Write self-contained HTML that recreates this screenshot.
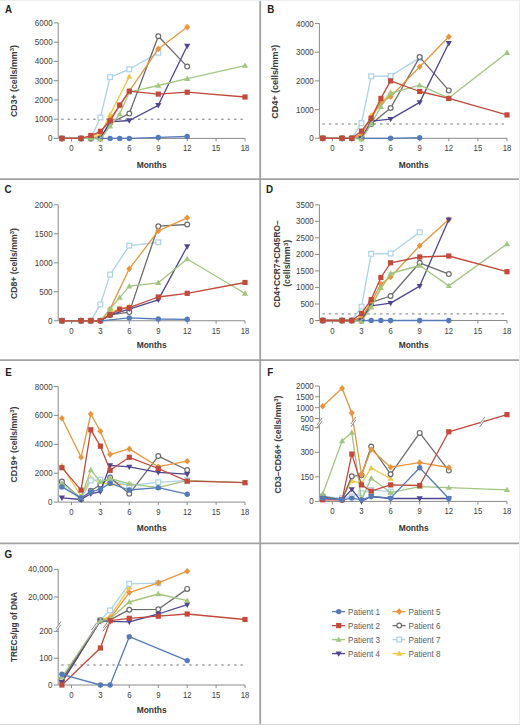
<!DOCTYPE html>
<html><head><meta charset="utf-8"><style>
html,body{margin:0;padding:0;background:#fff;}
svg{display:block;}
</style></head><body>
<svg width="520" height="725" viewBox="0 0 520 725">
<rect width="520" height="725" fill="#fff"/>
<text x="5.0" y="12.8" font-family='"Liberation Sans", sans-serif' font-weight="bold" font-size="10.8" fill="#222" textLength="7.08" lengthAdjust="spacingAndGlyphs">A</text>
<path d="M58.2 22.9V138.4H245.0" fill="none" stroke="#8a8a8a" stroke-width="1"/>
<path d="M53.7 138.4H58.2" stroke="#8a8a8a" stroke-width="1"/>
<text x="52.6" y="141.4" text-anchor="end" font-family='"Liberation Sans", sans-serif' font-size="8.6" fill="#404040" textLength="4.5" lengthAdjust="spacingAndGlyphs">0</text>
<path d="M53.7 119.2H58.2" stroke="#8a8a8a" stroke-width="1"/>
<text x="52.6" y="122.2" text-anchor="end" font-family='"Liberation Sans", sans-serif' font-size="8.6" fill="#404040" textLength="17.8" lengthAdjust="spacingAndGlyphs">1000</text>
<path d="M53.7 99.9H58.2" stroke="#8a8a8a" stroke-width="1"/>
<text x="52.6" y="102.9" text-anchor="end" font-family='"Liberation Sans", sans-serif' font-size="8.6" fill="#404040" textLength="17.8" lengthAdjust="spacingAndGlyphs">2000</text>
<path d="M53.7 80.7H58.2" stroke="#8a8a8a" stroke-width="1"/>
<text x="52.6" y="83.7" text-anchor="end" font-family='"Liberation Sans", sans-serif' font-size="8.6" fill="#404040" textLength="17.8" lengthAdjust="spacingAndGlyphs">3000</text>
<path d="M53.7 61.4H58.2" stroke="#8a8a8a" stroke-width="1"/>
<text x="52.6" y="64.4" text-anchor="end" font-family='"Liberation Sans", sans-serif' font-size="8.6" fill="#404040" textLength="17.8" lengthAdjust="spacingAndGlyphs">4000</text>
<path d="M53.7 42.2H58.2" stroke="#8a8a8a" stroke-width="1"/>
<text x="52.6" y="45.2" text-anchor="end" font-family='"Liberation Sans", sans-serif' font-size="8.6" fill="#404040" textLength="17.8" lengthAdjust="spacingAndGlyphs">5000</text>
<path d="M53.7 22.9H58.2" stroke="#8a8a8a" stroke-width="1"/>
<text x="52.6" y="25.9" text-anchor="end" font-family='"Liberation Sans", sans-serif' font-size="8.6" fill="#404040" textLength="17.8" lengthAdjust="spacingAndGlyphs">6000</text>
<path d="M71.5 138.4V141.4" stroke="#8a8a8a" stroke-width="1"/>
<text x="71.5" y="151.4" text-anchor="middle" font-family='"Liberation Sans", sans-serif' font-size="8.6" fill="#404040" textLength="4.3" lengthAdjust="spacingAndGlyphs">0</text>
<path d="M100.4 138.4V141.4" stroke="#8a8a8a" stroke-width="1"/>
<text x="100.4" y="151.4" text-anchor="middle" font-family='"Liberation Sans", sans-serif' font-size="8.6" fill="#404040" textLength="4.3" lengthAdjust="spacingAndGlyphs">3</text>
<path d="M129.3 138.4V141.4" stroke="#8a8a8a" stroke-width="1"/>
<text x="129.3" y="151.4" text-anchor="middle" font-family='"Liberation Sans", sans-serif' font-size="8.6" fill="#404040" textLength="4.3" lengthAdjust="spacingAndGlyphs">6</text>
<path d="M158.3 138.4V141.4" stroke="#8a8a8a" stroke-width="1"/>
<text x="158.3" y="151.4" text-anchor="middle" font-family='"Liberation Sans", sans-serif' font-size="8.6" fill="#404040" textLength="4.3" lengthAdjust="spacingAndGlyphs">9</text>
<path d="M187.2 138.4V141.4" stroke="#8a8a8a" stroke-width="1"/>
<text x="187.2" y="151.4" text-anchor="middle" font-family='"Liberation Sans", sans-serif' font-size="8.6" fill="#404040" textLength="8.6" lengthAdjust="spacingAndGlyphs">12</text>
<path d="M216.1 138.4V141.4" stroke="#8a8a8a" stroke-width="1"/>
<text x="216.1" y="151.4" text-anchor="middle" font-family='"Liberation Sans", sans-serif' font-size="8.6" fill="#404040" textLength="8.6" lengthAdjust="spacingAndGlyphs">15</text>
<path d="M245.0 138.4V141.4" stroke="#8a8a8a" stroke-width="1"/>
<text x="245.0" y="151.4" text-anchor="middle" font-family='"Liberation Sans", sans-serif' font-size="8.6" fill="#404040" textLength="8.6" lengthAdjust="spacingAndGlyphs">18</text>
<text x="151.7" y="167.5" text-anchor="middle" font-family='"Liberation Sans", sans-serif' font-weight="bold" font-size="8.6" fill="#333" textLength="30" lengthAdjust="spacingAndGlyphs">Months</text>
<text transform="translate(14.0,81.0) rotate(-90)" x="0" y="3" text-anchor="middle" font-family='"Liberation Sans", sans-serif' font-weight="bold" font-size="8.4" fill="#3a3a3a" textLength="72" lengthAdjust="spacingAndGlyphs">CD3+ (cells/mm<tspan dy="-2.8" font-size="6.2">3</tspan><tspan dy="2.8">)</tspan></text>
<path d="M61.2 119.2H245.0" stroke="#777" stroke-width="1" stroke-dasharray="2.5 3.9"/>
<path d="M61.9 138.4L81.1 138.4L90.8 138.4L100.4 134.6L110.1 114.7L129.3 76.6" fill="none" stroke="#f0c644" stroke-width="1.3" stroke-linejoin="round"/>
<path d="M61.9 135.2L65.0 140.6L58.8 140.6Z" fill="#f0c644"/>
<path d="M81.1 135.2L84.2 140.6L78.0 140.6Z" fill="#f0c644"/>
<path d="M90.8 135.2L93.9 140.6L87.7 140.6Z" fill="#f0c644"/>
<path d="M100.4 131.4L103.5 136.8L97.3 136.8Z" fill="#f0c644"/>
<path d="M110.1 111.5L113.2 116.9L107.0 116.9Z" fill="#f0c644"/>
<path d="M129.3 73.4L132.4 78.8L126.2 78.8Z" fill="#f0c644"/>
<path d="M61.9 138.4L81.1 138.4L90.8 138.4L100.4 117.5L110.1 77.1L129.3 69.3L158.3 52.7" fill="none" stroke="#acd2e8" stroke-width="1.3" stroke-linejoin="round"/>
<rect x="59.5" y="136.0" width="4.8" height="4.8" fill="#fff" stroke="#acd2e8" stroke-width="1.2"/>
<rect x="78.7" y="136.0" width="4.8" height="4.8" fill="#fff" stroke="#acd2e8" stroke-width="1.2"/>
<rect x="88.4" y="136.0" width="4.8" height="4.8" fill="#fff" stroke="#acd2e8" stroke-width="1.2"/>
<rect x="98.0" y="115.1" width="4.8" height="4.8" fill="#fff" stroke="#acd2e8" stroke-width="1.2"/>
<rect x="107.7" y="74.7" width="4.8" height="4.8" fill="#fff" stroke="#acd2e8" stroke-width="1.2"/>
<rect x="126.9" y="66.9" width="4.8" height="4.8" fill="#fff" stroke="#acd2e8" stroke-width="1.2"/>
<rect x="155.9" y="50.3" width="4.8" height="4.8" fill="#fff" stroke="#acd2e8" stroke-width="1.2"/>
<path d="M61.9 138.4L81.1 138.4L90.8 138.4L100.4 138.4L110.1 123.0L129.3 113.6L158.3 36.2L187.2 66.6" fill="none" stroke="#6c6c6c" stroke-width="1.3" stroke-linejoin="round"/>
<circle cx="61.9" cy="138.4" r="2.4" fill="#fff" stroke="#6c6c6c" stroke-width="1.2"/>
<circle cx="81.1" cy="138.4" r="2.4" fill="#fff" stroke="#6c6c6c" stroke-width="1.2"/>
<circle cx="90.8" cy="138.4" r="2.4" fill="#fff" stroke="#6c6c6c" stroke-width="1.2"/>
<circle cx="100.4" cy="138.4" r="2.4" fill="#fff" stroke="#6c6c6c" stroke-width="1.2"/>
<circle cx="110.1" cy="123.0" r="2.4" fill="#fff" stroke="#6c6c6c" stroke-width="1.2"/>
<circle cx="129.3" cy="113.6" r="2.4" fill="#fff" stroke="#6c6c6c" stroke-width="1.2"/>
<circle cx="158.3" cy="36.2" r="2.4" fill="#fff" stroke="#6c6c6c" stroke-width="1.2"/>
<circle cx="187.2" cy="66.6" r="2.4" fill="#fff" stroke="#6c6c6c" stroke-width="1.2"/>
<path d="M61.9 138.4L81.1 138.4L90.8 136.5L100.4 132.6L110.1 119.2L119.7 105.3L129.3 91.2L158.3 48.9L187.2 27.1" fill="none" stroke="#e8963e" stroke-width="1.3" stroke-linejoin="round"/>
<path d="M61.9 135.1L64.9 138.4L61.9 141.7L58.9 138.4Z" fill="#e8963e"/>
<path d="M81.1 135.1L84.1 138.4L81.1 141.7L78.1 138.4Z" fill="#e8963e"/>
<path d="M90.8 133.2L93.8 136.5L90.8 139.8L87.8 136.5Z" fill="#e8963e"/>
<path d="M100.4 129.3L103.4 132.6L100.4 135.9L97.4 132.6Z" fill="#e8963e"/>
<path d="M110.1 115.9L113.1 119.2L110.1 122.5L107.1 119.2Z" fill="#e8963e"/>
<path d="M119.7 102.0L122.7 105.3L119.7 108.6L116.7 105.3Z" fill="#e8963e"/>
<path d="M129.3 87.9L132.3 91.2L129.3 94.5L126.3 91.2Z" fill="#e8963e"/>
<path d="M158.3 45.6L161.3 48.9L158.3 52.2L155.3 48.9Z" fill="#e8963e"/>
<path d="M187.2 23.8L190.2 27.1L187.2 30.4L184.2 27.1Z" fill="#e8963e"/>
<path d="M61.9 138.4L81.1 138.4L90.8 138.4L100.4 138.4L110.1 121.8L129.3 120.5L158.3 105.3L187.2 46.0" fill="none" stroke="#4e4690" stroke-width="1.3" stroke-linejoin="round"/>
<path d="M61.9 141.6L65.0 136.2L58.8 136.2Z" fill="#4e4690"/>
<path d="M81.1 141.6L84.2 136.2L78.0 136.2Z" fill="#4e4690"/>
<path d="M90.8 141.6L93.9 136.2L87.7 136.2Z" fill="#4e4690"/>
<path d="M100.4 141.6L103.5 136.2L97.3 136.2Z" fill="#4e4690"/>
<path d="M110.1 125.0L113.2 119.6L107.0 119.6Z" fill="#4e4690"/>
<path d="M129.3 123.7L132.4 118.3L126.2 118.3Z" fill="#4e4690"/>
<path d="M158.3 108.5L161.4 103.1L155.2 103.1Z" fill="#4e4690"/>
<path d="M187.2 49.2L190.3 43.8L184.1 43.8Z" fill="#4e4690"/>
<path d="M61.9 138.4L81.1 138.4L90.8 138.4L100.4 139.2L110.1 126.3L119.7 114.1L129.3 92.2L158.3 85.5L187.2 78.7L245.0 65.6" fill="none" stroke="#a2c682" stroke-width="1.3" stroke-linejoin="round"/>
<path d="M61.9 135.2L65.0 140.6L58.8 140.6Z" fill="#a2c682"/>
<path d="M81.1 135.2L84.2 140.6L78.0 140.6Z" fill="#a2c682"/>
<path d="M90.8 135.2L93.9 140.6L87.7 140.6Z" fill="#a2c682"/>
<path d="M100.4 136.0L103.5 141.4L97.3 141.4Z" fill="#a2c682"/>
<path d="M110.1 123.1L113.2 128.5L107.0 128.5Z" fill="#a2c682"/>
<path d="M119.7 110.9L122.8 116.3L116.6 116.3Z" fill="#a2c682"/>
<path d="M129.3 89.0L132.4 94.4L126.2 94.4Z" fill="#a2c682"/>
<path d="M158.3 82.3L161.4 87.7L155.2 87.7Z" fill="#a2c682"/>
<path d="M187.2 75.5L190.3 80.9L184.1 80.9Z" fill="#a2c682"/>
<path d="M245.0 62.4L248.1 67.8L241.9 67.8Z" fill="#a2c682"/>
<path d="M61.9 138.4L81.1 138.4L90.8 135.5L100.4 131.3L110.1 120.8L119.7 105.1L129.3 91.2L158.3 94.1L187.2 92.2L245.0 97.0" fill="none" stroke="#c24a3c" stroke-width="1.3" stroke-linejoin="round"/>
<rect x="59.3" y="135.8" width="5.2" height="5.2" fill="#c24a3c"/>
<rect x="78.5" y="135.8" width="5.2" height="5.2" fill="#c24a3c"/>
<rect x="88.2" y="132.9" width="5.2" height="5.2" fill="#c24a3c"/>
<rect x="97.8" y="128.7" width="5.2" height="5.2" fill="#c24a3c"/>
<rect x="107.5" y="118.2" width="5.2" height="5.2" fill="#c24a3c"/>
<rect x="117.1" y="102.5" width="5.2" height="5.2" fill="#c24a3c"/>
<rect x="126.7" y="88.6" width="5.2" height="5.2" fill="#c24a3c"/>
<rect x="155.7" y="91.5" width="5.2" height="5.2" fill="#c24a3c"/>
<rect x="184.6" y="89.6" width="5.2" height="5.2" fill="#c24a3c"/>
<rect x="242.4" y="94.4" width="5.2" height="5.2" fill="#c24a3c"/>
<path d="M100.4 138.4L110.1 138.4L119.7 138.4L129.3 138.4L158.3 137.4L187.2 136.5" fill="none" stroke="#557cb8" stroke-width="1.3" stroke-linejoin="round"/>
<circle cx="110.1" cy="138.4" r="2.7" fill="#557cb8"/>
<circle cx="119.7" cy="138.4" r="2.7" fill="#557cb8"/>
<circle cx="129.3" cy="138.4" r="2.7" fill="#557cb8"/>
<circle cx="158.3" cy="137.4" r="2.7" fill="#557cb8"/>
<circle cx="187.2" cy="136.5" r="2.7" fill="#557cb8"/>
<text x="267.3" y="12.8" font-family='"Liberation Sans", sans-serif' font-weight="bold" font-size="10.8" fill="#222" textLength="7.08" lengthAdjust="spacingAndGlyphs">B</text>
<path d="M319.4 23.5V138.3H507.0" fill="none" stroke="#8a8a8a" stroke-width="1"/>
<path d="M314.9 138.3H319.4" stroke="#8a8a8a" stroke-width="1"/>
<text x="313.8" y="141.3" text-anchor="end" font-family='"Liberation Sans", sans-serif' font-size="8.6" fill="#404040" textLength="4.5" lengthAdjust="spacingAndGlyphs">0</text>
<path d="M314.9 109.6H319.4" stroke="#8a8a8a" stroke-width="1"/>
<text x="313.8" y="112.6" text-anchor="end" font-family='"Liberation Sans", sans-serif' font-size="8.6" fill="#404040" textLength="17.8" lengthAdjust="spacingAndGlyphs">1000</text>
<path d="M314.9 80.9H319.4" stroke="#8a8a8a" stroke-width="1"/>
<text x="313.8" y="83.9" text-anchor="end" font-family='"Liberation Sans", sans-serif' font-size="8.6" fill="#404040" textLength="17.8" lengthAdjust="spacingAndGlyphs">2000</text>
<path d="M314.9 52.2H319.4" stroke="#8a8a8a" stroke-width="1"/>
<text x="313.8" y="55.2" text-anchor="end" font-family='"Liberation Sans", sans-serif' font-size="8.6" fill="#404040" textLength="17.8" lengthAdjust="spacingAndGlyphs">3000</text>
<path d="M314.9 23.5H319.4" stroke="#8a8a8a" stroke-width="1"/>
<text x="313.8" y="26.5" text-anchor="end" font-family='"Liberation Sans", sans-serif' font-size="8.6" fill="#404040" textLength="17.8" lengthAdjust="spacingAndGlyphs">4000</text>
<path d="M332.4 138.3V141.3" stroke="#8a8a8a" stroke-width="1"/>
<text x="332.4" y="151.3" text-anchor="middle" font-family='"Liberation Sans", sans-serif' font-size="8.6" fill="#404040" textLength="4.3" lengthAdjust="spacingAndGlyphs">0</text>
<path d="M361.5 138.3V141.3" stroke="#8a8a8a" stroke-width="1"/>
<text x="361.5" y="151.3" text-anchor="middle" font-family='"Liberation Sans", sans-serif' font-size="8.6" fill="#404040" textLength="4.3" lengthAdjust="spacingAndGlyphs">3</text>
<path d="M390.6 138.3V141.3" stroke="#8a8a8a" stroke-width="1"/>
<text x="390.6" y="151.3" text-anchor="middle" font-family='"Liberation Sans", sans-serif' font-size="8.6" fill="#404040" textLength="4.3" lengthAdjust="spacingAndGlyphs">6</text>
<path d="M419.7 138.3V141.3" stroke="#8a8a8a" stroke-width="1"/>
<text x="419.7" y="151.3" text-anchor="middle" font-family='"Liberation Sans", sans-serif' font-size="8.6" fill="#404040" textLength="4.3" lengthAdjust="spacingAndGlyphs">9</text>
<path d="M448.8 138.3V141.3" stroke="#8a8a8a" stroke-width="1"/>
<text x="448.8" y="151.3" text-anchor="middle" font-family='"Liberation Sans", sans-serif' font-size="8.6" fill="#404040" textLength="8.6" lengthAdjust="spacingAndGlyphs">12</text>
<path d="M477.9 138.3V141.3" stroke="#8a8a8a" stroke-width="1"/>
<text x="477.9" y="151.3" text-anchor="middle" font-family='"Liberation Sans", sans-serif' font-size="8.6" fill="#404040" textLength="8.6" lengthAdjust="spacingAndGlyphs">15</text>
<path d="M507.0 138.3V141.3" stroke="#8a8a8a" stroke-width="1"/>
<text x="507.0" y="151.3" text-anchor="middle" font-family='"Liberation Sans", sans-serif' font-size="8.6" fill="#404040" textLength="8.6" lengthAdjust="spacingAndGlyphs">18</text>
<text x="413.7" y="167.5" text-anchor="middle" font-family='"Liberation Sans", sans-serif' font-weight="bold" font-size="8.6" fill="#333" textLength="30" lengthAdjust="spacingAndGlyphs">Months</text>
<text transform="translate(275.3,81.7) rotate(-90)" x="0" y="3" text-anchor="middle" font-family='"Liberation Sans", sans-serif' font-weight="bold" font-size="8.4" fill="#3a3a3a" textLength="74" lengthAdjust="spacingAndGlyphs">CD4+ (cells/mm<tspan dy="-2.8" font-size="6.2">3</tspan><tspan dy="2.8">)</tspan></text>
<path d="M322.4 124.0H507.0" stroke="#777" stroke-width="1" stroke-dasharray="2.5 3.9"/>
<path d="M322.7 138.3L342.1 138.3L351.8 138.3L361.5 135.4L371.2 115.3L390.6 92.4" fill="none" stroke="#f0c644" stroke-width="1.3" stroke-linejoin="round"/>
<path d="M322.7 135.1L325.8 140.5L319.6 140.5Z" fill="#f0c644"/>
<path d="M342.1 135.1L345.2 140.5L339.0 140.5Z" fill="#f0c644"/>
<path d="M351.8 135.1L354.9 140.5L348.7 140.5Z" fill="#f0c644"/>
<path d="M361.5 132.2L364.6 137.6L358.4 137.6Z" fill="#f0c644"/>
<path d="M371.2 112.1L374.3 117.5L368.1 117.5Z" fill="#f0c644"/>
<path d="M390.6 89.2L393.7 94.6L387.5 94.6Z" fill="#f0c644"/>
<path d="M322.7 138.3L342.1 138.3L351.8 138.3L361.5 123.1L371.2 76.3L390.6 76.0L419.7 57.9" fill="none" stroke="#acd2e8" stroke-width="1.3" stroke-linejoin="round"/>
<rect x="320.3" y="135.9" width="4.8" height="4.8" fill="#fff" stroke="#acd2e8" stroke-width="1.2"/>
<rect x="339.7" y="135.9" width="4.8" height="4.8" fill="#fff" stroke="#acd2e8" stroke-width="1.2"/>
<rect x="349.4" y="135.9" width="4.8" height="4.8" fill="#fff" stroke="#acd2e8" stroke-width="1.2"/>
<rect x="359.1" y="120.7" width="4.8" height="4.8" fill="#fff" stroke="#acd2e8" stroke-width="1.2"/>
<rect x="368.8" y="73.9" width="4.8" height="4.8" fill="#fff" stroke="#acd2e8" stroke-width="1.2"/>
<rect x="388.2" y="73.6" width="4.8" height="4.8" fill="#fff" stroke="#acd2e8" stroke-width="1.2"/>
<rect x="417.3" y="55.5" width="4.8" height="4.8" fill="#fff" stroke="#acd2e8" stroke-width="1.2"/>
<path d="M322.7 138.3L342.1 138.3L351.8 138.3L361.5 138.3L371.2 124.0L390.6 108.0L419.7 57.1L448.8 90.4" fill="none" stroke="#6c6c6c" stroke-width="1.3" stroke-linejoin="round"/>
<circle cx="322.7" cy="138.3" r="2.4" fill="#fff" stroke="#6c6c6c" stroke-width="1.2"/>
<circle cx="342.1" cy="138.3" r="2.4" fill="#fff" stroke="#6c6c6c" stroke-width="1.2"/>
<circle cx="351.8" cy="138.3" r="2.4" fill="#fff" stroke="#6c6c6c" stroke-width="1.2"/>
<circle cx="361.5" cy="138.3" r="2.4" fill="#fff" stroke="#6c6c6c" stroke-width="1.2"/>
<circle cx="371.2" cy="124.0" r="2.4" fill="#fff" stroke="#6c6c6c" stroke-width="1.2"/>
<circle cx="390.6" cy="108.0" r="2.4" fill="#fff" stroke="#6c6c6c" stroke-width="1.2"/>
<circle cx="419.7" cy="57.1" r="2.4" fill="#fff" stroke="#6c6c6c" stroke-width="1.2"/>
<circle cx="448.8" cy="90.4" r="2.4" fill="#fff" stroke="#6c6c6c" stroke-width="1.2"/>
<path d="M322.7 138.3L342.1 138.3L351.8 138.3L361.5 134.0L371.2 118.2L380.9 102.4L390.6 96.7L419.7 66.8L448.8 36.7" fill="none" stroke="#e8963e" stroke-width="1.3" stroke-linejoin="round"/>
<path d="M322.7 135.0L325.7 138.3L322.7 141.6L319.7 138.3Z" fill="#e8963e"/>
<path d="M342.1 135.0L345.1 138.3L342.1 141.6L339.1 138.3Z" fill="#e8963e"/>
<path d="M351.8 135.0L354.8 138.3L351.8 141.6L348.8 138.3Z" fill="#e8963e"/>
<path d="M361.5 130.7L364.5 134.0L361.5 137.3L358.5 134.0Z" fill="#e8963e"/>
<path d="M371.2 114.9L374.2 118.2L371.2 121.5L368.2 118.2Z" fill="#e8963e"/>
<path d="M380.9 99.1L383.9 102.4L380.9 105.7L377.9 102.4Z" fill="#e8963e"/>
<path d="M390.6 93.4L393.6 96.7L390.6 100.0L387.6 96.7Z" fill="#e8963e"/>
<path d="M419.7 63.5L422.7 66.8L419.7 70.1L416.7 66.8Z" fill="#e8963e"/>
<path d="M448.8 33.4L451.8 36.7L448.8 40.0L445.8 36.7Z" fill="#e8963e"/>
<path d="M322.7 138.3L342.1 138.3L351.8 138.3L361.5 138.3L371.2 121.1L390.6 119.1L419.7 102.4L448.8 43.3" fill="none" stroke="#4e4690" stroke-width="1.3" stroke-linejoin="round"/>
<path d="M322.7 141.5L325.8 136.1L319.6 136.1Z" fill="#4e4690"/>
<path d="M342.1 141.5L345.2 136.1L339.0 136.1Z" fill="#4e4690"/>
<path d="M351.8 141.5L354.9 136.1L348.7 136.1Z" fill="#4e4690"/>
<path d="M361.5 141.5L364.6 136.1L358.4 136.1Z" fill="#4e4690"/>
<path d="M371.2 124.3L374.3 118.9L368.1 118.9Z" fill="#4e4690"/>
<path d="M390.6 122.3L393.7 116.9L387.5 116.9Z" fill="#4e4690"/>
<path d="M419.7 105.6L422.8 100.2L416.6 100.2Z" fill="#4e4690"/>
<path d="M448.8 46.5L451.9 41.1L445.7 41.1Z" fill="#4e4690"/>
<path d="M322.7 138.3L342.1 138.3L351.8 138.3L361.5 139.2L371.2 124.0L380.9 106.7L390.6 93.2L419.7 85.2L448.8 98.1L507.0 52.8" fill="none" stroke="#a2c682" stroke-width="1.3" stroke-linejoin="round"/>
<path d="M322.7 135.1L325.8 140.5L319.6 140.5Z" fill="#a2c682"/>
<path d="M342.1 135.1L345.2 140.5L339.0 140.5Z" fill="#a2c682"/>
<path d="M351.8 135.1L354.9 140.5L348.7 140.5Z" fill="#a2c682"/>
<path d="M361.5 136.0L364.6 141.4L358.4 141.4Z" fill="#a2c682"/>
<path d="M371.2 120.8L374.3 126.2L368.1 126.2Z" fill="#a2c682"/>
<path d="M380.9 103.5L384.0 108.9L377.8 108.9Z" fill="#a2c682"/>
<path d="M390.6 90.0L393.7 95.4L387.5 95.4Z" fill="#a2c682"/>
<path d="M419.7 82.0L422.8 87.4L416.6 87.4Z" fill="#a2c682"/>
<path d="M448.8 94.9L451.9 100.3L445.7 100.3Z" fill="#a2c682"/>
<path d="M507.0 49.6L510.1 55.0L503.9 55.0Z" fill="#a2c682"/>
<path d="M322.7 138.3L342.1 138.3L351.8 138.3L361.5 131.1L371.2 118.2L380.9 98.4L390.6 80.9L419.7 91.5L448.8 98.4L507.0 114.9" fill="none" stroke="#c24a3c" stroke-width="1.3" stroke-linejoin="round"/>
<rect x="320.1" y="135.7" width="5.2" height="5.2" fill="#c24a3c"/>
<rect x="339.5" y="135.7" width="5.2" height="5.2" fill="#c24a3c"/>
<rect x="349.2" y="135.7" width="5.2" height="5.2" fill="#c24a3c"/>
<rect x="358.9" y="128.5" width="5.2" height="5.2" fill="#c24a3c"/>
<rect x="368.6" y="115.6" width="5.2" height="5.2" fill="#c24a3c"/>
<rect x="378.3" y="95.8" width="5.2" height="5.2" fill="#c24a3c"/>
<rect x="388.0" y="78.3" width="5.2" height="5.2" fill="#c24a3c"/>
<rect x="417.1" y="88.9" width="5.2" height="5.2" fill="#c24a3c"/>
<rect x="446.2" y="95.8" width="5.2" height="5.2" fill="#c24a3c"/>
<rect x="504.4" y="112.3" width="5.2" height="5.2" fill="#c24a3c"/>
<path d="M361.5 138.3L390.6 138.3L419.7 137.7" fill="none" stroke="#557cb8" stroke-width="1.3" stroke-linejoin="round"/>
<circle cx="390.6" cy="138.3" r="2.7" fill="#557cb8"/>
<circle cx="419.7" cy="137.7" r="2.7" fill="#557cb8"/>
<text x="4.4" y="193.1" font-family='"Liberation Sans", sans-serif' font-weight="bold" font-size="10.8" fill="#222" textLength="7.08" lengthAdjust="spacingAndGlyphs">C</text>
<path d="M58.2 204.75V320.75H245.0" fill="none" stroke="#8a8a8a" stroke-width="1"/>
<path d="M53.7 320.8H58.2" stroke="#8a8a8a" stroke-width="1"/>
<text x="52.6" y="323.8" text-anchor="end" font-family='"Liberation Sans", sans-serif' font-size="8.6" fill="#404040" textLength="4.5" lengthAdjust="spacingAndGlyphs">0</text>
<path d="M53.7 291.8H58.2" stroke="#8a8a8a" stroke-width="1"/>
<text x="52.6" y="294.8" text-anchor="end" font-family='"Liberation Sans", sans-serif' font-size="8.6" fill="#404040" textLength="13.4" lengthAdjust="spacingAndGlyphs">500</text>
<path d="M53.7 262.8H58.2" stroke="#8a8a8a" stroke-width="1"/>
<text x="52.6" y="265.8" text-anchor="end" font-family='"Liberation Sans", sans-serif' font-size="8.6" fill="#404040" textLength="17.8" lengthAdjust="spacingAndGlyphs">1000</text>
<path d="M53.7 233.8H58.2" stroke="#8a8a8a" stroke-width="1"/>
<text x="52.6" y="236.8" text-anchor="end" font-family='"Liberation Sans", sans-serif' font-size="8.6" fill="#404040" textLength="17.8" lengthAdjust="spacingAndGlyphs">1500</text>
<path d="M53.7 204.8H58.2" stroke="#8a8a8a" stroke-width="1"/>
<text x="52.6" y="207.8" text-anchor="end" font-family='"Liberation Sans", sans-serif' font-size="8.6" fill="#404040" textLength="17.8" lengthAdjust="spacingAndGlyphs">2000</text>
<path d="M71.5 320.75V323.75" stroke="#8a8a8a" stroke-width="1"/>
<text x="71.5" y="333.8" text-anchor="middle" font-family='"Liberation Sans", sans-serif' font-size="8.6" fill="#404040" textLength="4.3" lengthAdjust="spacingAndGlyphs">0</text>
<path d="M100.4 320.75V323.75" stroke="#8a8a8a" stroke-width="1"/>
<text x="100.4" y="333.8" text-anchor="middle" font-family='"Liberation Sans", sans-serif' font-size="8.6" fill="#404040" textLength="4.3" lengthAdjust="spacingAndGlyphs">3</text>
<path d="M129.3 320.75V323.75" stroke="#8a8a8a" stroke-width="1"/>
<text x="129.3" y="333.8" text-anchor="middle" font-family='"Liberation Sans", sans-serif' font-size="8.6" fill="#404040" textLength="4.3" lengthAdjust="spacingAndGlyphs">6</text>
<path d="M158.3 320.75V323.75" stroke="#8a8a8a" stroke-width="1"/>
<text x="158.3" y="333.8" text-anchor="middle" font-family='"Liberation Sans", sans-serif' font-size="8.6" fill="#404040" textLength="4.3" lengthAdjust="spacingAndGlyphs">9</text>
<path d="M187.2 320.75V323.75" stroke="#8a8a8a" stroke-width="1"/>
<text x="187.2" y="333.8" text-anchor="middle" font-family='"Liberation Sans", sans-serif' font-size="8.6" fill="#404040" textLength="8.6" lengthAdjust="spacingAndGlyphs">12</text>
<path d="M216.1 320.75V323.75" stroke="#8a8a8a" stroke-width="1"/>
<text x="216.1" y="333.8" text-anchor="middle" font-family='"Liberation Sans", sans-serif' font-size="8.6" fill="#404040" textLength="8.6" lengthAdjust="spacingAndGlyphs">15</text>
<path d="M245.0 320.75V323.75" stroke="#8a8a8a" stroke-width="1"/>
<text x="245.0" y="333.8" text-anchor="middle" font-family='"Liberation Sans", sans-serif' font-size="8.6" fill="#404040" textLength="8.6" lengthAdjust="spacingAndGlyphs">18</text>
<text x="151.7" y="348.3" text-anchor="middle" font-family='"Liberation Sans", sans-serif' font-weight="bold" font-size="8.6" fill="#333" textLength="30" lengthAdjust="spacingAndGlyphs">Months</text>
<text transform="translate(13.8,263.5) rotate(-90)" x="0" y="3" text-anchor="middle" font-family='"Liberation Sans", sans-serif' font-weight="bold" font-size="8.4" fill="#3a3a3a" textLength="71" lengthAdjust="spacingAndGlyphs">CD8+ (cells/mm<tspan dy="-2.8" font-size="6.2">3</tspan><tspan dy="2.8">)</tspan></text>
<path d="M61.9 320.8L81.1 320.8L90.8 320.8L100.4 320.8L110.1 312.1L129.3 306.2" fill="none" stroke="#f0c644" stroke-width="1.3" stroke-linejoin="round"/>
<path d="M61.9 317.6L65.0 322.9L58.8 322.9Z" fill="#f0c644"/>
<path d="M81.1 317.6L84.2 322.9L78.0 322.9Z" fill="#f0c644"/>
<path d="M90.8 317.6L93.9 322.9L87.7 322.9Z" fill="#f0c644"/>
<path d="M100.4 317.6L103.5 322.9L97.3 322.9Z" fill="#f0c644"/>
<path d="M110.1 308.9L113.2 314.2L107.0 314.2Z" fill="#f0c644"/>
<path d="M129.3 303.1L132.4 308.4L126.2 308.4Z" fill="#f0c644"/>
<path d="M61.9 320.8L81.1 320.8L90.8 320.8L100.4 304.4L110.1 274.6L129.3 245.6L158.3 242.3" fill="none" stroke="#acd2e8" stroke-width="1.3" stroke-linejoin="round"/>
<rect x="59.5" y="318.4" width="4.8" height="4.8" fill="#fff" stroke="#acd2e8" stroke-width="1.2"/>
<rect x="78.7" y="318.4" width="4.8" height="4.8" fill="#fff" stroke="#acd2e8" stroke-width="1.2"/>
<rect x="88.4" y="318.4" width="4.8" height="4.8" fill="#fff" stroke="#acd2e8" stroke-width="1.2"/>
<rect x="98.0" y="302.0" width="4.8" height="4.8" fill="#fff" stroke="#acd2e8" stroke-width="1.2"/>
<rect x="107.7" y="272.2" width="4.8" height="4.8" fill="#fff" stroke="#acd2e8" stroke-width="1.2"/>
<rect x="126.9" y="243.2" width="4.8" height="4.8" fill="#fff" stroke="#acd2e8" stroke-width="1.2"/>
<rect x="155.9" y="239.9" width="4.8" height="4.8" fill="#fff" stroke="#acd2e8" stroke-width="1.2"/>
<path d="M61.9 320.8L81.1 320.8L90.8 320.8L100.4 320.8L110.1 314.9L129.3 312.1L158.3 226.2L187.2 224.5" fill="none" stroke="#6c6c6c" stroke-width="1.3" stroke-linejoin="round"/>
<circle cx="61.9" cy="320.8" r="2.4" fill="#fff" stroke="#6c6c6c" stroke-width="1.2"/>
<circle cx="81.1" cy="320.8" r="2.4" fill="#fff" stroke="#6c6c6c" stroke-width="1.2"/>
<circle cx="90.8" cy="320.8" r="2.4" fill="#fff" stroke="#6c6c6c" stroke-width="1.2"/>
<circle cx="100.4" cy="320.8" r="2.4" fill="#fff" stroke="#6c6c6c" stroke-width="1.2"/>
<circle cx="110.1" cy="314.9" r="2.4" fill="#fff" stroke="#6c6c6c" stroke-width="1.2"/>
<circle cx="129.3" cy="312.1" r="2.4" fill="#fff" stroke="#6c6c6c" stroke-width="1.2"/>
<circle cx="158.3" cy="226.2" r="2.4" fill="#fff" stroke="#6c6c6c" stroke-width="1.2"/>
<circle cx="187.2" cy="224.5" r="2.4" fill="#fff" stroke="#6c6c6c" stroke-width="1.2"/>
<path d="M61.9 320.8L81.1 320.8L90.8 320.8L100.4 320.8L110.1 309.1L129.3 268.8L158.3 230.8L187.2 217.8" fill="none" stroke="#e8963e" stroke-width="1.3" stroke-linejoin="round"/>
<path d="M61.9 317.4L64.9 320.8L61.9 324.1L58.9 320.8Z" fill="#e8963e"/>
<path d="M81.1 317.4L84.1 320.8L81.1 324.1L78.1 320.8Z" fill="#e8963e"/>
<path d="M90.8 317.4L93.8 320.8L90.8 324.1L87.8 320.8Z" fill="#e8963e"/>
<path d="M100.4 317.4L103.4 320.8L100.4 324.1L97.4 320.8Z" fill="#e8963e"/>
<path d="M110.1 305.8L113.1 309.1L110.1 312.4L107.1 309.1Z" fill="#e8963e"/>
<path d="M129.3 265.5L132.3 268.8L129.3 272.1L126.3 268.8Z" fill="#e8963e"/>
<path d="M158.3 227.5L161.3 230.8L158.3 234.2L155.3 230.8Z" fill="#e8963e"/>
<path d="M187.2 214.5L190.2 217.8L187.2 221.1L184.2 217.8Z" fill="#e8963e"/>
<path d="M61.9 320.8L81.1 320.8L90.8 320.8L100.4 320.8L110.1 314.9L129.3 309.1L158.3 299.9L187.2 246.5" fill="none" stroke="#4e4690" stroke-width="1.3" stroke-linejoin="round"/>
<path d="M61.9 323.9L65.0 318.6L58.8 318.6Z" fill="#4e4690"/>
<path d="M81.1 323.9L84.2 318.6L78.0 318.6Z" fill="#4e4690"/>
<path d="M90.8 323.9L93.9 318.6L87.7 318.6Z" fill="#4e4690"/>
<path d="M100.4 323.9L103.5 318.6L97.3 318.6Z" fill="#4e4690"/>
<path d="M110.1 318.1L113.2 312.8L107.0 312.8Z" fill="#4e4690"/>
<path d="M129.3 312.3L132.4 306.9L126.2 306.9Z" fill="#4e4690"/>
<path d="M158.3 303.1L161.4 297.7L155.2 297.7Z" fill="#4e4690"/>
<path d="M187.2 249.7L190.3 244.3L184.1 244.3Z" fill="#4e4690"/>
<path d="M61.9 320.8L81.1 320.8L90.8 320.8L100.4 320.8L110.1 309.1L119.7 297.6L129.3 286.2L158.3 282.8L187.2 259.0L245.0 293.5" fill="none" stroke="#a2c682" stroke-width="1.3" stroke-linejoin="round"/>
<path d="M61.9 317.6L65.0 322.9L58.8 322.9Z" fill="#a2c682"/>
<path d="M81.1 317.6L84.2 322.9L78.0 322.9Z" fill="#a2c682"/>
<path d="M90.8 317.6L93.9 322.9L87.7 322.9Z" fill="#a2c682"/>
<path d="M100.4 317.6L103.5 322.9L97.3 322.9Z" fill="#a2c682"/>
<path d="M110.1 305.9L113.2 311.3L107.0 311.3Z" fill="#a2c682"/>
<path d="M119.7 294.4L122.8 299.8L116.6 299.8Z" fill="#a2c682"/>
<path d="M129.3 283.0L132.4 288.4L126.2 288.4Z" fill="#a2c682"/>
<path d="M158.3 279.6L161.4 285.0L155.2 285.0Z" fill="#a2c682"/>
<path d="M187.2 255.8L190.3 261.2L184.1 261.2Z" fill="#a2c682"/>
<path d="M245.0 290.3L248.1 295.7L241.9 295.7Z" fill="#a2c682"/>
<path d="M61.9 320.8L81.1 320.8L90.8 320.8L100.4 320.8L110.1 314.9L119.7 309.1L129.3 307.7L158.3 297.0L187.2 293.3L245.0 282.5" fill="none" stroke="#c24a3c" stroke-width="1.3" stroke-linejoin="round"/>
<rect x="59.3" y="318.1" width="5.2" height="5.2" fill="#c24a3c"/>
<rect x="78.5" y="318.1" width="5.2" height="5.2" fill="#c24a3c"/>
<rect x="88.2" y="318.1" width="5.2" height="5.2" fill="#c24a3c"/>
<rect x="97.8" y="318.1" width="5.2" height="5.2" fill="#c24a3c"/>
<rect x="107.5" y="312.3" width="5.2" height="5.2" fill="#c24a3c"/>
<rect x="117.1" y="306.5" width="5.2" height="5.2" fill="#c24a3c"/>
<rect x="126.7" y="305.1" width="5.2" height="5.2" fill="#c24a3c"/>
<rect x="155.7" y="294.4" width="5.2" height="5.2" fill="#c24a3c"/>
<rect x="184.6" y="290.7" width="5.2" height="5.2" fill="#c24a3c"/>
<rect x="242.4" y="279.9" width="5.2" height="5.2" fill="#c24a3c"/>
<path d="M100.4 320.8L129.3 317.9L158.3 319.0L187.2 319.3" fill="none" stroke="#557cb8" stroke-width="1.3" stroke-linejoin="round"/>
<circle cx="129.3" cy="317.9" r="2.7" fill="#557cb8"/>
<circle cx="158.3" cy="319.0" r="2.7" fill="#557cb8"/>
<circle cx="187.2" cy="319.3" r="2.7" fill="#557cb8"/>
<text x="266.0" y="193.1" font-family='"Liberation Sans", sans-serif' font-weight="bold" font-size="10.8" fill="#222" textLength="7.08" lengthAdjust="spacingAndGlyphs">D</text>
<path d="M319.4 204.75V320.5H507.0" fill="none" stroke="#8a8a8a" stroke-width="1"/>
<path d="M314.9 320.5H319.4" stroke="#8a8a8a" stroke-width="1"/>
<text x="313.8" y="323.5" text-anchor="end" font-family='"Liberation Sans", sans-serif' font-size="8.6" fill="#404040" textLength="4.5" lengthAdjust="spacingAndGlyphs">0</text>
<path d="M314.9 304.0H319.4" stroke="#8a8a8a" stroke-width="1"/>
<text x="313.8" y="307.0" text-anchor="end" font-family='"Liberation Sans", sans-serif' font-size="8.6" fill="#404040" textLength="13.4" lengthAdjust="spacingAndGlyphs">500</text>
<path d="M314.9 287.4H319.4" stroke="#8a8a8a" stroke-width="1"/>
<text x="313.8" y="290.4" text-anchor="end" font-family='"Liberation Sans", sans-serif' font-size="8.6" fill="#404040" textLength="17.8" lengthAdjust="spacingAndGlyphs">1000</text>
<path d="M314.9 270.9H319.4" stroke="#8a8a8a" stroke-width="1"/>
<text x="313.8" y="273.9" text-anchor="end" font-family='"Liberation Sans", sans-serif' font-size="8.6" fill="#404040" textLength="17.8" lengthAdjust="spacingAndGlyphs">1500</text>
<path d="M314.9 254.4H319.4" stroke="#8a8a8a" stroke-width="1"/>
<text x="313.8" y="257.4" text-anchor="end" font-family='"Liberation Sans", sans-serif' font-size="8.6" fill="#404040" textLength="17.8" lengthAdjust="spacingAndGlyphs">2000</text>
<path d="M314.9 237.8H319.4" stroke="#8a8a8a" stroke-width="1"/>
<text x="313.8" y="240.8" text-anchor="end" font-family='"Liberation Sans", sans-serif' font-size="8.6" fill="#404040" textLength="17.8" lengthAdjust="spacingAndGlyphs">2500</text>
<path d="M314.9 221.3H319.4" stroke="#8a8a8a" stroke-width="1"/>
<text x="313.8" y="224.3" text-anchor="end" font-family='"Liberation Sans", sans-serif' font-size="8.6" fill="#404040" textLength="17.8" lengthAdjust="spacingAndGlyphs">3000</text>
<path d="M314.9 204.8H319.4" stroke="#8a8a8a" stroke-width="1"/>
<text x="313.8" y="207.8" text-anchor="end" font-family='"Liberation Sans", sans-serif' font-size="8.6" fill="#404040" textLength="17.8" lengthAdjust="spacingAndGlyphs">3500</text>
<path d="M332.4 320.5V323.5" stroke="#8a8a8a" stroke-width="1"/>
<text x="332.4" y="333.5" text-anchor="middle" font-family='"Liberation Sans", sans-serif' font-size="8.6" fill="#404040" textLength="4.3" lengthAdjust="spacingAndGlyphs">0</text>
<path d="M361.5 320.5V323.5" stroke="#8a8a8a" stroke-width="1"/>
<text x="361.5" y="333.5" text-anchor="middle" font-family='"Liberation Sans", sans-serif' font-size="8.6" fill="#404040" textLength="4.3" lengthAdjust="spacingAndGlyphs">3</text>
<path d="M390.6 320.5V323.5" stroke="#8a8a8a" stroke-width="1"/>
<text x="390.6" y="333.5" text-anchor="middle" font-family='"Liberation Sans", sans-serif' font-size="8.6" fill="#404040" textLength="4.3" lengthAdjust="spacingAndGlyphs">6</text>
<path d="M419.7 320.5V323.5" stroke="#8a8a8a" stroke-width="1"/>
<text x="419.7" y="333.5" text-anchor="middle" font-family='"Liberation Sans", sans-serif' font-size="8.6" fill="#404040" textLength="4.3" lengthAdjust="spacingAndGlyphs">9</text>
<path d="M448.8 320.5V323.5" stroke="#8a8a8a" stroke-width="1"/>
<text x="448.8" y="333.5" text-anchor="middle" font-family='"Liberation Sans", sans-serif' font-size="8.6" fill="#404040" textLength="8.6" lengthAdjust="spacingAndGlyphs">12</text>
<path d="M477.9 320.5V323.5" stroke="#8a8a8a" stroke-width="1"/>
<text x="477.9" y="333.5" text-anchor="middle" font-family='"Liberation Sans", sans-serif' font-size="8.6" fill="#404040" textLength="8.6" lengthAdjust="spacingAndGlyphs">15</text>
<path d="M507.0 320.5V323.5" stroke="#8a8a8a" stroke-width="1"/>
<text x="507.0" y="333.5" text-anchor="middle" font-family='"Liberation Sans", sans-serif' font-size="8.6" fill="#404040" textLength="8.6" lengthAdjust="spacingAndGlyphs">18</text>
<text x="413.7" y="348.0" text-anchor="middle" font-family='"Liberation Sans", sans-serif' font-weight="bold" font-size="8.6" fill="#333" textLength="30" lengthAdjust="spacingAndGlyphs">Months</text>
<text transform="translate(277.0,264.0) rotate(-90)" x="0" y="3" text-anchor="middle" font-family='"Liberation Sans", sans-serif' font-weight="bold" font-size="8.4" fill="#3a3a3a" textLength="87" lengthAdjust="spacingAndGlyphs">CD4+CCR7+CD45RO–</text>
<text transform="translate(287.3,263.3) rotate(-90)" x="0" y="3" text-anchor="middle" font-family='"Liberation Sans", sans-serif' font-weight="bold" font-size="8.4" fill="#3a3a3a" textLength="47" lengthAdjust="spacingAndGlyphs">(cells/mm<tspan dy="-2.8" font-size="6.2">3</tspan><tspan dy="2.8">)</tspan></text>
<path d="M322.4 313.9H507.0" stroke="#777" stroke-width="1" stroke-dasharray="2.5 3.9"/>
<path d="M322.7 320.5L342.1 320.5L351.8 320.5L361.5 318.8L371.2 304.0L390.6 274.2" fill="none" stroke="#f0c644" stroke-width="1.3" stroke-linejoin="round"/>
<path d="M322.7 317.3L325.8 322.7L319.6 322.7Z" fill="#f0c644"/>
<path d="M342.1 317.3L345.2 322.7L339.0 322.7Z" fill="#f0c644"/>
<path d="M351.8 317.3L354.9 322.7L348.7 322.7Z" fill="#f0c644"/>
<path d="M361.5 315.6L364.6 321.0L358.4 321.0Z" fill="#f0c644"/>
<path d="M371.2 300.8L374.3 306.2L368.1 306.2Z" fill="#f0c644"/>
<path d="M390.6 271.0L393.7 276.4L387.5 276.4Z" fill="#f0c644"/>
<path d="M322.7 320.5L342.1 320.5L351.8 320.5L361.5 306.7L371.2 253.8L390.6 253.5L419.7 232.3" fill="none" stroke="#acd2e8" stroke-width="1.3" stroke-linejoin="round"/>
<rect x="320.3" y="318.1" width="4.8" height="4.8" fill="#fff" stroke="#acd2e8" stroke-width="1.2"/>
<rect x="339.7" y="318.1" width="4.8" height="4.8" fill="#fff" stroke="#acd2e8" stroke-width="1.2"/>
<rect x="349.4" y="318.1" width="4.8" height="4.8" fill="#fff" stroke="#acd2e8" stroke-width="1.2"/>
<rect x="359.1" y="304.3" width="4.8" height="4.8" fill="#fff" stroke="#acd2e8" stroke-width="1.2"/>
<rect x="368.8" y="251.4" width="4.8" height="4.8" fill="#fff" stroke="#acd2e8" stroke-width="1.2"/>
<rect x="388.2" y="251.1" width="4.8" height="4.8" fill="#fff" stroke="#acd2e8" stroke-width="1.2"/>
<rect x="417.3" y="229.9" width="4.8" height="4.8" fill="#fff" stroke="#acd2e8" stroke-width="1.2"/>
<path d="M322.7 320.5L342.1 320.5L351.8 320.5L361.5 320.5L371.2 302.3L390.6 296.0L419.7 262.8L448.8 274.1" fill="none" stroke="#6c6c6c" stroke-width="1.3" stroke-linejoin="round"/>
<circle cx="322.7" cy="320.5" r="2.4" fill="#fff" stroke="#6c6c6c" stroke-width="1.2"/>
<circle cx="342.1" cy="320.5" r="2.4" fill="#fff" stroke="#6c6c6c" stroke-width="1.2"/>
<circle cx="351.8" cy="320.5" r="2.4" fill="#fff" stroke="#6c6c6c" stroke-width="1.2"/>
<circle cx="361.5" cy="320.5" r="2.4" fill="#fff" stroke="#6c6c6c" stroke-width="1.2"/>
<circle cx="371.2" cy="302.3" r="2.4" fill="#fff" stroke="#6c6c6c" stroke-width="1.2"/>
<circle cx="390.6" cy="296.0" r="2.4" fill="#fff" stroke="#6c6c6c" stroke-width="1.2"/>
<circle cx="419.7" cy="262.8" r="2.4" fill="#fff" stroke="#6c6c6c" stroke-width="1.2"/>
<circle cx="448.8" cy="274.1" r="2.4" fill="#fff" stroke="#6c6c6c" stroke-width="1.2"/>
<path d="M322.7 320.5L342.1 320.5L351.8 320.5L361.5 317.2L371.2 302.3L380.9 284.1L390.6 277.0L419.7 245.7L448.8 219.6" fill="none" stroke="#e8963e" stroke-width="1.3" stroke-linejoin="round"/>
<path d="M322.7 317.2L325.7 320.5L322.7 323.8L319.7 320.5Z" fill="#e8963e"/>
<path d="M342.1 317.2L345.1 320.5L342.1 323.8L339.1 320.5Z" fill="#e8963e"/>
<path d="M351.8 317.2L354.8 320.5L351.8 323.8L348.8 320.5Z" fill="#e8963e"/>
<path d="M361.5 313.9L364.5 317.2L361.5 320.5L358.5 317.2Z" fill="#e8963e"/>
<path d="M371.2 299.0L374.2 302.3L371.2 305.6L368.2 302.3Z" fill="#e8963e"/>
<path d="M380.9 280.8L383.9 284.1L380.9 287.4L377.9 284.1Z" fill="#e8963e"/>
<path d="M390.6 273.7L393.6 277.0L390.6 280.3L387.6 277.0Z" fill="#e8963e"/>
<path d="M419.7 242.4L422.7 245.7L419.7 249.0L416.7 245.7Z" fill="#e8963e"/>
<path d="M448.8 216.3L451.8 219.6L448.8 222.9L445.8 219.6Z" fill="#e8963e"/>
<path d="M322.7 320.5L342.1 320.5L351.8 320.5L361.5 320.5L371.2 305.8L390.6 303.1L419.7 286.1L448.8 219.6" fill="none" stroke="#4e4690" stroke-width="1.3" stroke-linejoin="round"/>
<path d="M322.7 323.7L325.8 318.3L319.6 318.3Z" fill="#4e4690"/>
<path d="M342.1 323.7L345.2 318.3L339.0 318.3Z" fill="#4e4690"/>
<path d="M351.8 323.7L354.9 318.3L348.7 318.3Z" fill="#4e4690"/>
<path d="M361.5 323.7L364.6 318.3L358.4 318.3Z" fill="#4e4690"/>
<path d="M371.2 309.0L374.3 303.6L368.1 303.6Z" fill="#4e4690"/>
<path d="M390.6 306.3L393.7 300.9L387.5 300.9Z" fill="#4e4690"/>
<path d="M419.7 289.3L422.8 283.9L416.6 283.9Z" fill="#4e4690"/>
<path d="M448.8 222.8L451.9 217.4L445.7 217.4Z" fill="#4e4690"/>
<path d="M322.7 320.5L342.1 320.5L351.8 320.5L361.5 321.5L371.2 307.3L380.9 287.9L390.6 273.5L419.7 265.5L448.8 285.9L507.0 244.0" fill="none" stroke="#a2c682" stroke-width="1.3" stroke-linejoin="round"/>
<path d="M322.7 317.3L325.8 322.7L319.6 322.7Z" fill="#a2c682"/>
<path d="M342.1 317.3L345.2 322.7L339.0 322.7Z" fill="#a2c682"/>
<path d="M351.8 317.3L354.9 322.7L348.7 322.7Z" fill="#a2c682"/>
<path d="M361.5 318.3L364.6 323.7L358.4 323.7Z" fill="#a2c682"/>
<path d="M371.2 304.1L374.3 309.5L368.1 309.5Z" fill="#a2c682"/>
<path d="M380.9 284.7L384.0 290.1L377.8 290.1Z" fill="#a2c682"/>
<path d="M390.6 270.3L393.7 275.7L387.5 275.7Z" fill="#a2c682"/>
<path d="M419.7 262.3L422.8 267.7L416.6 267.7Z" fill="#a2c682"/>
<path d="M448.8 282.7L451.9 288.1L445.7 288.1Z" fill="#a2c682"/>
<path d="M507.0 240.8L510.1 246.2L503.9 246.2Z" fill="#a2c682"/>
<path d="M322.7 320.5L342.1 320.5L351.8 320.5L361.5 313.4L371.2 299.6L380.9 277.5L390.6 262.8L419.7 257.0L448.8 256.0L507.0 271.7" fill="none" stroke="#c24a3c" stroke-width="1.3" stroke-linejoin="round"/>
<rect x="320.1" y="317.9" width="5.2" height="5.2" fill="#c24a3c"/>
<rect x="339.5" y="317.9" width="5.2" height="5.2" fill="#c24a3c"/>
<rect x="349.2" y="317.9" width="5.2" height="5.2" fill="#c24a3c"/>
<rect x="358.9" y="310.8" width="5.2" height="5.2" fill="#c24a3c"/>
<rect x="368.6" y="297.0" width="5.2" height="5.2" fill="#c24a3c"/>
<rect x="378.3" y="274.9" width="5.2" height="5.2" fill="#c24a3c"/>
<rect x="388.0" y="260.2" width="5.2" height="5.2" fill="#c24a3c"/>
<rect x="417.1" y="254.4" width="5.2" height="5.2" fill="#c24a3c"/>
<rect x="446.2" y="253.4" width="5.2" height="5.2" fill="#c24a3c"/>
<rect x="504.4" y="269.1" width="5.2" height="5.2" fill="#c24a3c"/>
<path d="M361.5 320.5L371.2 320.5L380.9 320.5L390.6 320.5L419.7 320.5L448.8 320.5" fill="none" stroke="#557cb8" stroke-width="1.3" stroke-linejoin="round"/>
<circle cx="371.2" cy="320.5" r="2.7" fill="#557cb8"/>
<circle cx="380.9" cy="320.5" r="2.7" fill="#557cb8"/>
<circle cx="390.6" cy="320.5" r="2.7" fill="#557cb8"/>
<circle cx="419.7" cy="320.5" r="2.7" fill="#557cb8"/>
<circle cx="448.8" cy="320.5" r="2.7" fill="#557cb8"/>
<text x="5.2" y="375.5" font-family='"Liberation Sans", sans-serif' font-weight="bold" font-size="10.8" fill="#222" textLength="6.54" lengthAdjust="spacingAndGlyphs">E</text>
<path d="M58.2 386.5V502.1H245.0" fill="none" stroke="#8a8a8a" stroke-width="1"/>
<path d="M53.7 502.1H58.2" stroke="#8a8a8a" stroke-width="1"/>
<text x="52.6" y="505.1" text-anchor="end" font-family='"Liberation Sans", sans-serif' font-size="8.6" fill="#404040" textLength="4.5" lengthAdjust="spacingAndGlyphs">0</text>
<path d="M53.7 473.2H58.2" stroke="#8a8a8a" stroke-width="1"/>
<text x="52.6" y="476.2" text-anchor="end" font-family='"Liberation Sans", sans-serif' font-size="8.6" fill="#404040" textLength="17.8" lengthAdjust="spacingAndGlyphs">2000</text>
<path d="M53.7 444.3H58.2" stroke="#8a8a8a" stroke-width="1"/>
<text x="52.6" y="447.3" text-anchor="end" font-family='"Liberation Sans", sans-serif' font-size="8.6" fill="#404040" textLength="17.8" lengthAdjust="spacingAndGlyphs">4000</text>
<path d="M53.7 415.4H58.2" stroke="#8a8a8a" stroke-width="1"/>
<text x="52.6" y="418.4" text-anchor="end" font-family='"Liberation Sans", sans-serif' font-size="8.6" fill="#404040" textLength="17.8" lengthAdjust="spacingAndGlyphs">6000</text>
<path d="M53.7 386.5H58.2" stroke="#8a8a8a" stroke-width="1"/>
<text x="52.6" y="389.5" text-anchor="end" font-family='"Liberation Sans", sans-serif' font-size="8.6" fill="#404040" textLength="17.8" lengthAdjust="spacingAndGlyphs">8000</text>
<path d="M71.5 502.1V505.1" stroke="#8a8a8a" stroke-width="1"/>
<text x="71.5" y="515.1" text-anchor="middle" font-family='"Liberation Sans", sans-serif' font-size="8.6" fill="#404040" textLength="4.3" lengthAdjust="spacingAndGlyphs">0</text>
<path d="M100.4 502.1V505.1" stroke="#8a8a8a" stroke-width="1"/>
<text x="100.4" y="515.1" text-anchor="middle" font-family='"Liberation Sans", sans-serif' font-size="8.6" fill="#404040" textLength="4.3" lengthAdjust="spacingAndGlyphs">3</text>
<path d="M129.3 502.1V505.1" stroke="#8a8a8a" stroke-width="1"/>
<text x="129.3" y="515.1" text-anchor="middle" font-family='"Liberation Sans", sans-serif' font-size="8.6" fill="#404040" textLength="4.3" lengthAdjust="spacingAndGlyphs">6</text>
<path d="M158.3 502.1V505.1" stroke="#8a8a8a" stroke-width="1"/>
<text x="158.3" y="515.1" text-anchor="middle" font-family='"Liberation Sans", sans-serif' font-size="8.6" fill="#404040" textLength="4.3" lengthAdjust="spacingAndGlyphs">9</text>
<path d="M187.2 502.1V505.1" stroke="#8a8a8a" stroke-width="1"/>
<text x="187.2" y="515.1" text-anchor="middle" font-family='"Liberation Sans", sans-serif' font-size="8.6" fill="#404040" textLength="8.6" lengthAdjust="spacingAndGlyphs">12</text>
<path d="M216.1 502.1V505.1" stroke="#8a8a8a" stroke-width="1"/>
<text x="216.1" y="515.1" text-anchor="middle" font-family='"Liberation Sans", sans-serif' font-size="8.6" fill="#404040" textLength="8.6" lengthAdjust="spacingAndGlyphs">15</text>
<path d="M245.0 502.1V505.1" stroke="#8a8a8a" stroke-width="1"/>
<text x="245.0" y="515.1" text-anchor="middle" font-family='"Liberation Sans", sans-serif' font-size="8.6" fill="#404040" textLength="8.6" lengthAdjust="spacingAndGlyphs">18</text>
<text x="151.7" y="530.5" text-anchor="middle" font-family='"Liberation Sans", sans-serif' font-weight="bold" font-size="8.6" fill="#333" textLength="30" lengthAdjust="spacingAndGlyphs">Months</text>
<text transform="translate(13.9,444.6) rotate(-90)" x="0" y="3" text-anchor="middle" font-family='"Liberation Sans", sans-serif' font-weight="bold" font-size="8.4" fill="#3a3a3a" textLength="76" lengthAdjust="spacingAndGlyphs">CD19+ (cells/mm<tspan dy="-2.8" font-size="6.2">3</tspan><tspan dy="2.8">)</tspan></text>
<path d="M61.9 466.0L81.1 496.3L90.8 478.0L100.4 483.3L110.1 483.8L129.3 484.8" fill="none" stroke="#f0c644" stroke-width="1.3" stroke-linejoin="round"/>
<path d="M61.9 462.8L65.0 468.2L58.8 468.2Z" fill="#f0c644"/>
<path d="M81.1 493.1L84.2 498.5L78.0 498.5Z" fill="#f0c644"/>
<path d="M90.8 474.8L93.9 480.2L87.7 480.2Z" fill="#f0c644"/>
<path d="M100.4 480.1L103.5 485.5L97.3 485.5Z" fill="#f0c644"/>
<path d="M110.1 480.6L113.2 486.0L107.0 486.0Z" fill="#f0c644"/>
<path d="M129.3 481.6L132.4 487.0L126.2 487.0Z" fill="#f0c644"/>
<path d="M61.9 486.2L81.1 499.2L90.8 480.4L100.4 479.7L110.1 480.4L129.3 485.5L158.3 482.3L187.2 480.4" fill="none" stroke="#acd2e8" stroke-width="1.3" stroke-linejoin="round"/>
<rect x="59.5" y="483.8" width="4.8" height="4.8" fill="#fff" stroke="#acd2e8" stroke-width="1.2"/>
<rect x="78.7" y="496.8" width="4.8" height="4.8" fill="#fff" stroke="#acd2e8" stroke-width="1.2"/>
<rect x="88.4" y="478.0" width="4.8" height="4.8" fill="#fff" stroke="#acd2e8" stroke-width="1.2"/>
<rect x="98.0" y="477.3" width="4.8" height="4.8" fill="#fff" stroke="#acd2e8" stroke-width="1.2"/>
<rect x="107.7" y="478.0" width="4.8" height="4.8" fill="#fff" stroke="#acd2e8" stroke-width="1.2"/>
<rect x="126.9" y="483.1" width="4.8" height="4.8" fill="#fff" stroke="#acd2e8" stroke-width="1.2"/>
<rect x="155.9" y="479.9" width="4.8" height="4.8" fill="#fff" stroke="#acd2e8" stroke-width="1.2"/>
<rect x="184.8" y="478.0" width="4.8" height="4.8" fill="#fff" stroke="#acd2e8" stroke-width="1.2"/>
<path d="M61.9 481.5L81.1 499.2L90.8 490.8L100.4 484.8L110.1 477.5L129.3 493.8L158.3 456.1L187.2 470.0" fill="none" stroke="#6c6c6c" stroke-width="1.3" stroke-linejoin="round"/>
<circle cx="61.9" cy="481.5" r="2.4" fill="#fff" stroke="#6c6c6c" stroke-width="1.2"/>
<circle cx="81.1" cy="499.2" r="2.4" fill="#fff" stroke="#6c6c6c" stroke-width="1.2"/>
<circle cx="90.8" cy="490.8" r="2.4" fill="#fff" stroke="#6c6c6c" stroke-width="1.2"/>
<circle cx="100.4" cy="484.8" r="2.4" fill="#fff" stroke="#6c6c6c" stroke-width="1.2"/>
<circle cx="110.1" cy="477.5" r="2.4" fill="#fff" stroke="#6c6c6c" stroke-width="1.2"/>
<circle cx="129.3" cy="493.8" r="2.4" fill="#fff" stroke="#6c6c6c" stroke-width="1.2"/>
<circle cx="158.3" cy="456.1" r="2.4" fill="#fff" stroke="#6c6c6c" stroke-width="1.2"/>
<circle cx="187.2" cy="470.0" r="2.4" fill="#fff" stroke="#6c6c6c" stroke-width="1.2"/>
<path d="M61.9 418.3L81.1 457.3L90.8 414.0L100.4 431.3L110.1 454.4L129.3 448.9L158.3 466.7L187.2 461.2" fill="none" stroke="#e8963e" stroke-width="1.3" stroke-linejoin="round"/>
<path d="M61.9 415.0L64.9 418.3L61.9 421.6L58.9 418.3Z" fill="#e8963e"/>
<path d="M81.1 454.0L84.1 457.3L81.1 460.6L78.1 457.3Z" fill="#e8963e"/>
<path d="M90.8 410.7L93.8 414.0L90.8 417.3L87.8 414.0Z" fill="#e8963e"/>
<path d="M100.4 428.0L103.4 431.3L100.4 434.6L97.4 431.3Z" fill="#e8963e"/>
<path d="M110.1 451.1L113.1 454.4L110.1 457.7L107.1 454.4Z" fill="#e8963e"/>
<path d="M129.3 445.6L132.3 448.9L129.3 452.2L126.3 448.9Z" fill="#e8963e"/>
<path d="M158.3 463.4L161.3 466.7L158.3 470.0L155.3 466.7Z" fill="#e8963e"/>
<path d="M187.2 457.9L190.2 461.2L187.2 464.5L184.2 461.2Z" fill="#e8963e"/>
<path d="M61.9 497.8L81.1 499.5L90.8 493.8L100.4 491.6L110.1 465.4L129.3 466.9L158.3 472.3L187.2 474.2" fill="none" stroke="#4e4690" stroke-width="1.3" stroke-linejoin="round"/>
<path d="M61.9 501.0L65.0 495.6L58.8 495.6Z" fill="#4e4690"/>
<path d="M81.1 502.7L84.2 497.3L78.0 497.3Z" fill="#4e4690"/>
<path d="M90.8 497.0L93.9 491.6L87.7 491.6Z" fill="#4e4690"/>
<path d="M100.4 494.8L103.5 489.4L97.3 489.4Z" fill="#4e4690"/>
<path d="M110.1 468.6L113.2 463.2L107.0 463.2Z" fill="#4e4690"/>
<path d="M129.3 470.1L132.4 464.7L126.2 464.7Z" fill="#4e4690"/>
<path d="M158.3 475.5L161.4 470.1L155.2 470.1Z" fill="#4e4690"/>
<path d="M187.2 477.4L190.3 472.0L184.1 472.0Z" fill="#4e4690"/>
<path d="M61.9 483.3L81.1 497.8L90.8 470.0L100.4 481.9L110.1 478.5L129.3 483.8L158.3 487.7L187.2 480.4L245.0 482.6" fill="none" stroke="#a2c682" stroke-width="1.3" stroke-linejoin="round"/>
<path d="M61.9 480.1L65.0 485.5L58.8 485.5Z" fill="#a2c682"/>
<path d="M81.1 494.6L84.2 500.0L78.0 500.0Z" fill="#a2c682"/>
<path d="M90.8 466.8L93.9 472.2L87.7 472.2Z" fill="#a2c682"/>
<path d="M100.4 478.7L103.5 484.1L97.3 484.1Z" fill="#a2c682"/>
<path d="M110.1 475.3L113.2 480.7L107.0 480.7Z" fill="#a2c682"/>
<path d="M129.3 480.6L132.4 486.0L126.2 486.0Z" fill="#a2c682"/>
<path d="M158.3 484.5L161.4 489.9L155.2 489.9Z" fill="#a2c682"/>
<path d="M187.2 477.2L190.3 482.6L184.1 482.6Z" fill="#a2c682"/>
<path d="M245.0 479.4L248.1 484.8L241.9 484.8Z" fill="#a2c682"/>
<path d="M61.9 467.7L81.1 490.1L90.8 429.9L100.4 446.2L110.1 470.3L129.3 457.3L158.3 468.5L187.2 481.2L245.0 482.7" fill="none" stroke="#c24a3c" stroke-width="1.3" stroke-linejoin="round"/>
<rect x="59.3" y="465.1" width="5.2" height="5.2" fill="#c24a3c"/>
<rect x="78.5" y="487.5" width="5.2" height="5.2" fill="#c24a3c"/>
<rect x="88.2" y="427.2" width="5.2" height="5.2" fill="#c24a3c"/>
<rect x="97.8" y="443.6" width="5.2" height="5.2" fill="#c24a3c"/>
<rect x="107.5" y="467.7" width="5.2" height="5.2" fill="#c24a3c"/>
<rect x="126.7" y="454.7" width="5.2" height="5.2" fill="#c24a3c"/>
<rect x="155.7" y="465.9" width="5.2" height="5.2" fill="#c24a3c"/>
<rect x="184.6" y="478.6" width="5.2" height="5.2" fill="#c24a3c"/>
<rect x="242.4" y="480.1" width="5.2" height="5.2" fill="#c24a3c"/>
<path d="M61.9 486.9L81.1 497.8L90.8 492.0L100.4 489.1L110.1 483.3L129.3 490.0L158.3 487.7L187.2 494.2" fill="none" stroke="#557cb8" stroke-width="1.3" stroke-linejoin="round"/>
<circle cx="61.9" cy="486.9" r="2.7" fill="#557cb8"/>
<circle cx="81.1" cy="497.8" r="2.7" fill="#557cb8"/>
<circle cx="90.8" cy="492.0" r="2.7" fill="#557cb8"/>
<circle cx="100.4" cy="489.1" r="2.7" fill="#557cb8"/>
<circle cx="110.1" cy="483.3" r="2.7" fill="#557cb8"/>
<circle cx="129.3" cy="490.0" r="2.7" fill="#557cb8"/>
<circle cx="158.3" cy="487.7" r="2.7" fill="#557cb8"/>
<circle cx="187.2" cy="494.2" r="2.7" fill="#557cb8"/>
<text x="267.2" y="375.5" font-family='"Liberation Sans", sans-serif' font-weight="bold" font-size="10.8" fill="#222" textLength="5.99" lengthAdjust="spacingAndGlyphs">F</text>
<path d="M319.4 386.0V501.4H507.0" fill="none" stroke="#8a8a8a" stroke-width="1"/>
<path d="M314.9 501.4H319.4" stroke="#8a8a8a" stroke-width="1"/>
<text x="313.8" y="504.4" text-anchor="end" font-family='"Liberation Sans", sans-serif' font-size="8.6" fill="#404040" textLength="4.5" lengthAdjust="spacingAndGlyphs">0</text>
<path d="M314.9 476.8H319.4" stroke="#8a8a8a" stroke-width="1"/>
<text x="313.8" y="479.8" text-anchor="end" font-family='"Liberation Sans", sans-serif' font-size="8.6" fill="#404040" textLength="13.4" lengthAdjust="spacingAndGlyphs">150</text>
<path d="M314.9 452.3H319.4" stroke="#8a8a8a" stroke-width="1"/>
<text x="313.8" y="455.3" text-anchor="end" font-family='"Liberation Sans", sans-serif' font-size="8.6" fill="#404040" textLength="13.4" lengthAdjust="spacingAndGlyphs">300</text>
<path d="M314.9 427.7H319.4" stroke="#8a8a8a" stroke-width="1"/>
<text x="313.8" y="430.7" text-anchor="end" font-family='"Liberation Sans", sans-serif' font-size="8.6" fill="#404040" textLength="13.4" lengthAdjust="spacingAndGlyphs">450</text>
<path d="M314.9 418.5H319.4" stroke="#8a8a8a" stroke-width="1"/>
<text x="313.8" y="421.5" text-anchor="end" font-family='"Liberation Sans", sans-serif' font-size="8.6" fill="#404040" textLength="13.4" lengthAdjust="spacingAndGlyphs">500</text>
<path d="M314.9 407.7H319.4" stroke="#8a8a8a" stroke-width="1"/>
<text x="313.8" y="410.7" text-anchor="end" font-family='"Liberation Sans", sans-serif' font-size="8.6" fill="#404040" textLength="17.8" lengthAdjust="spacingAndGlyphs">1000</text>
<path d="M314.9 396.8H319.4" stroke="#8a8a8a" stroke-width="1"/>
<text x="313.8" y="399.8" text-anchor="end" font-family='"Liberation Sans", sans-serif' font-size="8.6" fill="#404040" textLength="17.8" lengthAdjust="spacingAndGlyphs">1500</text>
<path d="M314.9 386.0H319.4" stroke="#8a8a8a" stroke-width="1"/>
<text x="313.8" y="389.0" text-anchor="end" font-family='"Liberation Sans", sans-serif' font-size="8.6" fill="#404040" textLength="17.8" lengthAdjust="spacingAndGlyphs">2000</text>
<path d="M332.4 501.4V504.4" stroke="#8a8a8a" stroke-width="1"/>
<text x="332.4" y="514.4" text-anchor="middle" font-family='"Liberation Sans", sans-serif' font-size="8.6" fill="#404040" textLength="4.3" lengthAdjust="spacingAndGlyphs">0</text>
<path d="M361.5 501.4V504.4" stroke="#8a8a8a" stroke-width="1"/>
<text x="361.5" y="514.4" text-anchor="middle" font-family='"Liberation Sans", sans-serif' font-size="8.6" fill="#404040" textLength="4.3" lengthAdjust="spacingAndGlyphs">3</text>
<path d="M390.6 501.4V504.4" stroke="#8a8a8a" stroke-width="1"/>
<text x="390.6" y="514.4" text-anchor="middle" font-family='"Liberation Sans", sans-serif' font-size="8.6" fill="#404040" textLength="4.3" lengthAdjust="spacingAndGlyphs">6</text>
<path d="M419.7 501.4V504.4" stroke="#8a8a8a" stroke-width="1"/>
<text x="419.7" y="514.4" text-anchor="middle" font-family='"Liberation Sans", sans-serif' font-size="8.6" fill="#404040" textLength="4.3" lengthAdjust="spacingAndGlyphs">9</text>
<path d="M448.8 501.4V504.4" stroke="#8a8a8a" stroke-width="1"/>
<text x="448.8" y="514.4" text-anchor="middle" font-family='"Liberation Sans", sans-serif' font-size="8.6" fill="#404040" textLength="8.6" lengthAdjust="spacingAndGlyphs">12</text>
<path d="M477.9 501.4V504.4" stroke="#8a8a8a" stroke-width="1"/>
<text x="477.9" y="514.4" text-anchor="middle" font-family='"Liberation Sans", sans-serif' font-size="8.6" fill="#404040" textLength="8.6" lengthAdjust="spacingAndGlyphs">15</text>
<path d="M507.0 501.4V504.4" stroke="#8a8a8a" stroke-width="1"/>
<text x="507.0" y="514.4" text-anchor="middle" font-family='"Liberation Sans", sans-serif' font-size="8.6" fill="#404040" textLength="8.6" lengthAdjust="spacingAndGlyphs">18</text>
<text x="413.7" y="530.5" text-anchor="middle" font-family='"Liberation Sans", sans-serif' font-weight="bold" font-size="8.6" fill="#333" textLength="30" lengthAdjust="spacingAndGlyphs">Months</text>
<text transform="translate(277.7,444.5) rotate(-90)" x="0" y="3" text-anchor="middle" font-family='"Liberation Sans", sans-serif' font-weight="bold" font-size="8.4" fill="#3a3a3a" textLength="98" lengthAdjust="spacingAndGlyphs">CD3–CD56+ (cells/mm<tspan dy="-2.8" font-size="6.2">3</tspan><tspan dy="2.8">)</tspan></text>
<path d="M322.7 498.1L342.1 498.9L351.8 480.9L361.5 483.4L371.2 468.0L390.6 478.5" fill="none" stroke="#f0c644" stroke-width="1.3" stroke-linejoin="round"/>
<path d="M322.7 494.9L325.8 500.3L319.6 500.3Z" fill="#f0c644"/>
<path d="M342.1 495.7L345.2 501.1L339.0 501.1Z" fill="#f0c644"/>
<path d="M351.8 477.7L354.9 483.1L348.7 483.1Z" fill="#f0c644"/>
<path d="M361.5 480.2L364.6 485.6L358.4 485.6Z" fill="#f0c644"/>
<path d="M371.2 464.8L374.3 470.2L368.1 470.2Z" fill="#f0c644"/>
<path d="M390.6 475.3L393.7 480.7L387.5 480.7Z" fill="#f0c644"/>
<path d="M322.7 496.5L342.1 498.1L351.8 496.5L361.5 493.2L371.2 489.9L390.6 491.6" fill="none" stroke="#acd2e8" stroke-width="1.3" stroke-linejoin="round"/>
<rect x="320.3" y="494.1" width="4.8" height="4.8" fill="#fff" stroke="#acd2e8" stroke-width="1.2"/>
<rect x="339.7" y="495.7" width="4.8" height="4.8" fill="#fff" stroke="#acd2e8" stroke-width="1.2"/>
<rect x="349.4" y="494.1" width="4.8" height="4.8" fill="#fff" stroke="#acd2e8" stroke-width="1.2"/>
<rect x="359.1" y="490.8" width="4.8" height="4.8" fill="#fff" stroke="#acd2e8" stroke-width="1.2"/>
<rect x="368.8" y="487.5" width="4.8" height="4.8" fill="#fff" stroke="#acd2e8" stroke-width="1.2"/>
<rect x="388.2" y="489.2" width="4.8" height="4.8" fill="#fff" stroke="#acd2e8" stroke-width="1.2"/>
<path d="M322.7 496.5L342.1 499.8L351.8 476.3L361.5 475.2L371.2 446.5L390.6 474.2L419.7 432.9L448.8 470.6" fill="none" stroke="#6c6c6c" stroke-width="1.3" stroke-linejoin="round"/>
<circle cx="322.7" cy="496.5" r="2.4" fill="#fff" stroke="#6c6c6c" stroke-width="1.2"/>
<circle cx="342.1" cy="499.8" r="2.4" fill="#fff" stroke="#6c6c6c" stroke-width="1.2"/>
<circle cx="351.8" cy="476.3" r="2.4" fill="#fff" stroke="#6c6c6c" stroke-width="1.2"/>
<circle cx="361.5" cy="475.2" r="2.4" fill="#fff" stroke="#6c6c6c" stroke-width="1.2"/>
<circle cx="371.2" cy="446.5" r="2.4" fill="#fff" stroke="#6c6c6c" stroke-width="1.2"/>
<circle cx="390.6" cy="474.2" r="2.4" fill="#fff" stroke="#6c6c6c" stroke-width="1.2"/>
<circle cx="419.7" cy="432.9" r="2.4" fill="#fff" stroke="#6c6c6c" stroke-width="1.2"/>
<circle cx="448.8" cy="470.6" r="2.4" fill="#fff" stroke="#6c6c6c" stroke-width="1.2"/>
<path d="M322.7 406.3L342.1 388.2L351.8 413.1L361.5 474.5L371.2 449.5L390.6 467.2L419.7 462.6L448.8 467.5" fill="none" stroke="#e8963e" stroke-width="1.3" stroke-linejoin="round"/>
<path d="M322.7 403.0L325.7 406.3L322.7 409.6L319.7 406.3Z" fill="#e8963e"/>
<path d="M342.1 384.9L345.1 388.2L342.1 391.5L339.1 388.2Z" fill="#e8963e"/>
<path d="M351.8 409.8L354.8 413.1L351.8 416.4L348.8 413.1Z" fill="#e8963e"/>
<path d="M361.5 471.2L364.5 474.5L361.5 477.8L358.5 474.5Z" fill="#e8963e"/>
<path d="M371.2 446.2L374.2 449.5L371.2 452.8L368.2 449.5Z" fill="#e8963e"/>
<path d="M390.6 463.9L393.6 467.2L390.6 470.5L387.6 467.2Z" fill="#e8963e"/>
<path d="M419.7 459.3L422.7 462.6L419.7 465.9L416.7 462.6Z" fill="#e8963e"/>
<path d="M448.8 464.2L451.8 467.5L448.8 470.8L445.8 467.5Z" fill="#e8963e"/>
<path d="M322.7 498.1L342.1 499.8L351.8 489.4L361.5 501.4L371.2 496.5L390.6 498.5L419.7 498.5L448.8 498.5" fill="none" stroke="#4e4690" stroke-width="1.3" stroke-linejoin="round"/>
<path d="M322.7 501.3L325.8 495.9L319.6 495.9Z" fill="#4e4690"/>
<path d="M342.1 503.0L345.2 497.6L339.0 497.6Z" fill="#4e4690"/>
<path d="M351.8 492.6L354.9 487.2L348.7 487.2Z" fill="#4e4690"/>
<path d="M361.5 504.6L364.6 499.2L358.4 499.2Z" fill="#4e4690"/>
<path d="M371.2 499.7L374.3 494.3L368.1 494.3Z" fill="#4e4690"/>
<path d="M390.6 501.7L393.7 496.3L387.5 496.3Z" fill="#4e4690"/>
<path d="M419.7 501.7L422.8 496.3L416.6 496.3Z" fill="#4e4690"/>
<path d="M448.8 501.7L451.9 496.3L445.7 496.3Z" fill="#4e4690"/>
<path d="M322.7 494.0L342.1 441.0L351.8 432.6L361.5 499.8L371.2 478.3L390.6 492.6L419.7 486.7L448.8 487.6L507.0 489.9" fill="none" stroke="#a2c682" stroke-width="1.3" stroke-linejoin="round"/>
<path d="M322.7 490.8L325.8 496.2L319.6 496.2Z" fill="#a2c682"/>
<path d="M342.1 437.8L345.2 443.2L339.0 443.2Z" fill="#a2c682"/>
<path d="M351.8 429.4L354.9 434.8L348.7 434.8Z" fill="#a2c682"/>
<path d="M361.5 496.6L364.6 502.0L358.4 502.0Z" fill="#a2c682"/>
<path d="M371.2 475.1L374.3 480.5L368.1 480.5Z" fill="#a2c682"/>
<path d="M390.6 489.4L393.7 494.8L387.5 494.8Z" fill="#a2c682"/>
<path d="M419.7 483.5L422.8 488.9L416.6 488.9Z" fill="#a2c682"/>
<path d="M448.8 484.4L451.9 489.8L445.7 489.8Z" fill="#a2c682"/>
<path d="M507.0 486.7L510.1 492.1L503.9 492.1Z" fill="#a2c682"/>
<path d="M322.7 499.8L342.1 499.8L351.8 454.1L361.5 484.9L371.2 491.2L390.6 484.9L419.7 485.5L448.8 431.8L507.0 414.6" fill="none" stroke="#c24a3c" stroke-width="1.3" stroke-linejoin="round"/>
<rect x="320.1" y="497.2" width="5.2" height="5.2" fill="#c24a3c"/>
<rect x="339.5" y="497.2" width="5.2" height="5.2" fill="#c24a3c"/>
<rect x="349.2" y="451.5" width="5.2" height="5.2" fill="#c24a3c"/>
<rect x="358.9" y="482.3" width="5.2" height="5.2" fill="#c24a3c"/>
<rect x="368.6" y="488.6" width="5.2" height="5.2" fill="#c24a3c"/>
<rect x="388.0" y="482.3" width="5.2" height="5.2" fill="#c24a3c"/>
<rect x="417.1" y="482.9" width="5.2" height="5.2" fill="#c24a3c"/>
<rect x="446.2" y="429.2" width="5.2" height="5.2" fill="#c24a3c"/>
<rect x="504.4" y="412.0" width="5.2" height="5.2" fill="#c24a3c"/>
<path d="M322.7 498.1L342.1 499.8L351.8 498.1L361.5 499.8L371.2 496.5L390.6 498.1L419.7 467.8L448.8 498.5" fill="none" stroke="#557cb8" stroke-width="1.3" stroke-linejoin="round"/>
<circle cx="322.7" cy="498.1" r="2.7" fill="#557cb8"/>
<circle cx="342.1" cy="499.8" r="2.7" fill="#557cb8"/>
<circle cx="351.8" cy="498.1" r="2.7" fill="#557cb8"/>
<circle cx="361.5" cy="499.8" r="2.7" fill="#557cb8"/>
<circle cx="371.2" cy="496.5" r="2.7" fill="#557cb8"/>
<circle cx="390.6" cy="498.1" r="2.7" fill="#557cb8"/>
<circle cx="419.7" cy="467.8" r="2.7" fill="#557cb8"/>
<circle cx="448.8" cy="498.5" r="2.7" fill="#557cb8"/>
<polygon points="317.0,425.1 322.2,417.9 322.2,420.9 317.0,428.1" fill="#fff"/><path d="M317.0 425.1L322.2 417.9M317.0 428.1L322.2 420.9" stroke="#8a8a8a" stroke-width="1"/>
<polygon points="350.7,424.1 355.9,416.9 355.9,419.9 350.7,427.1" fill="#fff"/><path d="M350.7 424.1L355.9 416.9M350.7 427.1L355.9 419.9" stroke="#8a8a8a" stroke-width="1"/>
<polygon points="479.6,424.1 484.8,416.9 484.8,419.9 479.6,427.1" fill="#fff"/><path d="M479.6 424.1L484.8 416.9M479.6 427.1L484.8 419.9" stroke="#8a8a8a" stroke-width="1"/>
<text x="4.5" y="557.7" font-family='"Liberation Sans", sans-serif' font-weight="bold" font-size="10.8" fill="#222" textLength="7.62" lengthAdjust="spacingAndGlyphs">G</text>
<path d="M58.2 569.4V685.0H245.0" fill="none" stroke="#8a8a8a" stroke-width="1"/>
<path d="M53.7 685.0H58.2" stroke="#8a8a8a" stroke-width="1"/>
<text x="52.6" y="688.0" text-anchor="end" font-family='"Liberation Sans", sans-serif' font-size="8.6" fill="#404040" textLength="4.5" lengthAdjust="spacingAndGlyphs">0</text>
<path d="M53.7 658.2H58.2" stroke="#8a8a8a" stroke-width="1"/>
<text x="52.6" y="661.2" text-anchor="end" font-family='"Liberation Sans", sans-serif' font-size="8.6" fill="#404040" textLength="13.4" lengthAdjust="spacingAndGlyphs">100</text>
<path d="M53.7 631.4H58.2" stroke="#8a8a8a" stroke-width="1"/>
<text x="52.6" y="634.4" text-anchor="end" font-family='"Liberation Sans", sans-serif' font-size="8.6" fill="#404040" textLength="13.4" lengthAdjust="spacingAndGlyphs">200</text>
<path d="M53.7 597.0H58.2" stroke="#8a8a8a" stroke-width="1"/>
<text x="52.6" y="600.0" text-anchor="end" font-family='"Liberation Sans", sans-serif' font-size="8.6" fill="#404040" textLength="24.5" lengthAdjust="spacingAndGlyphs">20,000</text>
<path d="M53.7 569.4H58.2" stroke="#8a8a8a" stroke-width="1"/>
<text x="52.6" y="572.4" text-anchor="end" font-family='"Liberation Sans", sans-serif' font-size="8.6" fill="#404040" textLength="24.5" lengthAdjust="spacingAndGlyphs">40,000</text>
<path d="M71.5 685.0V688.0" stroke="#8a8a8a" stroke-width="1"/>
<text x="71.5" y="698.0" text-anchor="middle" font-family='"Liberation Sans", sans-serif' font-size="8.6" fill="#404040" textLength="4.3" lengthAdjust="spacingAndGlyphs">0</text>
<path d="M100.4 685.0V688.0" stroke="#8a8a8a" stroke-width="1"/>
<text x="100.4" y="698.0" text-anchor="middle" font-family='"Liberation Sans", sans-serif' font-size="8.6" fill="#404040" textLength="4.3" lengthAdjust="spacingAndGlyphs">3</text>
<path d="M129.3 685.0V688.0" stroke="#8a8a8a" stroke-width="1"/>
<text x="129.3" y="698.0" text-anchor="middle" font-family='"Liberation Sans", sans-serif' font-size="8.6" fill="#404040" textLength="4.3" lengthAdjust="spacingAndGlyphs">6</text>
<path d="M158.3 685.0V688.0" stroke="#8a8a8a" stroke-width="1"/>
<text x="158.3" y="698.0" text-anchor="middle" font-family='"Liberation Sans", sans-serif' font-size="8.6" fill="#404040" textLength="4.3" lengthAdjust="spacingAndGlyphs">9</text>
<path d="M187.2 685.0V688.0" stroke="#8a8a8a" stroke-width="1"/>
<text x="187.2" y="698.0" text-anchor="middle" font-family='"Liberation Sans", sans-serif' font-size="8.6" fill="#404040" textLength="8.6" lengthAdjust="spacingAndGlyphs">12</text>
<path d="M216.1 685.0V688.0" stroke="#8a8a8a" stroke-width="1"/>
<text x="216.1" y="698.0" text-anchor="middle" font-family='"Liberation Sans", sans-serif' font-size="8.6" fill="#404040" textLength="8.6" lengthAdjust="spacingAndGlyphs">15</text>
<path d="M245.0 685.0V688.0" stroke="#8a8a8a" stroke-width="1"/>
<text x="245.0" y="698.0" text-anchor="middle" font-family='"Liberation Sans", sans-serif' font-size="8.6" fill="#404040" textLength="8.6" lengthAdjust="spacingAndGlyphs">18</text>
<text x="151.7" y="713.0" text-anchor="middle" font-family='"Liberation Sans", sans-serif' font-weight="bold" font-size="8.6" fill="#333" textLength="30" lengthAdjust="spacingAndGlyphs">Months</text>
<text transform="translate(13.8,627.0) rotate(-90)" x="0" y="3" text-anchor="middle" font-family='"Liberation Sans", sans-serif' font-weight="bold" font-size="8.4" fill="#3a3a3a" textLength="70" lengthAdjust="spacingAndGlyphs">TRECs/μg of DNA</text>
<path d="M61.2 665.0H245.0" stroke="#777" stroke-width="1" stroke-dasharray="2.5 3.9"/>
<path d="M61.9 679.6L100.4 620.2L110.1 616.3L129.3 587.3" fill="none" stroke="#f0c644" stroke-width="1.3" stroke-linejoin="round"/>
<path d="M61.9 676.4L65.0 681.8L58.8 681.8Z" fill="#f0c644"/>
<path d="M100.4 617.0L103.5 622.4L97.3 622.4Z" fill="#f0c644"/>
<path d="M110.1 613.1L113.2 618.5L107.0 618.5Z" fill="#f0c644"/>
<path d="M129.3 584.1L132.4 589.5L126.2 589.5Z" fill="#f0c644"/>
<path d="M61.9 679.6L100.4 619.9L110.1 610.4L129.3 583.8L158.3 583.2" fill="none" stroke="#acd2e8" stroke-width="1.3" stroke-linejoin="round"/>
<rect x="59.5" y="677.2" width="4.8" height="4.8" fill="#fff" stroke="#acd2e8" stroke-width="1.2"/>
<rect x="98.0" y="617.5" width="4.8" height="4.8" fill="#fff" stroke="#acd2e8" stroke-width="1.2"/>
<rect x="107.7" y="608.0" width="4.8" height="4.8" fill="#fff" stroke="#acd2e8" stroke-width="1.2"/>
<rect x="126.9" y="581.4" width="4.8" height="4.8" fill="#fff" stroke="#acd2e8" stroke-width="1.2"/>
<rect x="155.9" y="580.8" width="4.8" height="4.8" fill="#fff" stroke="#acd2e8" stroke-width="1.2"/>
<path d="M61.9 679.6L100.4 620.5L110.1 619.8L129.3 609.7L158.3 609.3L187.2 588.9" fill="none" stroke="#6c6c6c" stroke-width="1.3" stroke-linejoin="round"/>
<circle cx="61.9" cy="679.6" r="2.4" fill="#fff" stroke="#6c6c6c" stroke-width="1.2"/>
<circle cx="100.4" cy="620.5" r="2.4" fill="#fff" stroke="#6c6c6c" stroke-width="1.2"/>
<circle cx="110.1" cy="619.8" r="2.4" fill="#fff" stroke="#6c6c6c" stroke-width="1.2"/>
<circle cx="129.3" cy="609.7" r="2.4" fill="#fff" stroke="#6c6c6c" stroke-width="1.2"/>
<circle cx="158.3" cy="609.3" r="2.4" fill="#fff" stroke="#6c6c6c" stroke-width="1.2"/>
<circle cx="187.2" cy="588.9" r="2.4" fill="#fff" stroke="#6c6c6c" stroke-width="1.2"/>
<path d="M61.9 682.3L100.4 620.5L110.1 618.3L129.3 592.6L158.3 582.9L187.2 571.2" fill="none" stroke="#e8963e" stroke-width="1.3" stroke-linejoin="round"/>
<path d="M61.9 679.0L64.9 682.3L61.9 685.6L58.9 682.3Z" fill="#e8963e"/>
<path d="M100.4 617.2L103.4 620.5L100.4 623.8L97.4 620.5Z" fill="#e8963e"/>
<path d="M110.1 615.0L113.1 618.3L110.1 621.6L107.1 618.3Z" fill="#e8963e"/>
<path d="M129.3 589.3L132.3 592.6L129.3 595.9L126.3 592.6Z" fill="#e8963e"/>
<path d="M158.3 579.6L161.3 582.9L158.3 586.2L155.3 582.9Z" fill="#e8963e"/>
<path d="M187.2 567.9L190.2 571.2L187.2 574.5L184.2 571.2Z" fill="#e8963e"/>
<path d="M61.9 682.3L100.4 620.9L110.1 621.4L129.3 621.8L158.3 614.0L187.2 604.7" fill="none" stroke="#4e4690" stroke-width="1.3" stroke-linejoin="round"/>
<path d="M61.9 685.5L65.0 680.1L58.8 680.1Z" fill="#4e4690"/>
<path d="M100.4 624.1L103.5 618.7L97.3 618.7Z" fill="#4e4690"/>
<path d="M110.1 624.6L113.2 619.2L107.0 619.2Z" fill="#4e4690"/>
<path d="M129.3 625.0L132.4 619.6L126.2 619.6Z" fill="#4e4690"/>
<path d="M158.3 617.2L161.4 611.8L155.2 611.8Z" fill="#4e4690"/>
<path d="M187.2 607.9L190.3 602.5L184.1 602.5Z" fill="#4e4690"/>
<path d="M61.9 677.0L100.4 620.6L110.1 618.8L129.3 602.0L158.3 594.0L187.2 600.6" fill="none" stroke="#a2c682" stroke-width="1.3" stroke-linejoin="round"/>
<path d="M61.9 673.8L65.0 679.2L58.8 679.2Z" fill="#a2c682"/>
<path d="M100.4 617.4L103.5 622.8L97.3 622.8Z" fill="#a2c682"/>
<path d="M110.1 615.6L113.2 621.0L107.0 621.0Z" fill="#a2c682"/>
<path d="M129.3 598.8L132.4 604.2L126.2 604.2Z" fill="#a2c682"/>
<path d="M158.3 590.8L161.4 596.2L155.2 596.2Z" fill="#a2c682"/>
<path d="M187.2 597.4L190.3 602.8L184.1 602.8Z" fill="#a2c682"/>
<path d="M61.9 685.0L100.4 648.0L110.1 620.7L129.3 618.3L158.3 616.2L187.2 614.0L245.0 619.5" fill="none" stroke="#c24a3c" stroke-width="1.3" stroke-linejoin="round"/>
<rect x="59.3" y="682.4" width="5.2" height="5.2" fill="#c24a3c"/>
<rect x="97.8" y="645.4" width="5.2" height="5.2" fill="#c24a3c"/>
<rect x="107.5" y="618.1" width="5.2" height="5.2" fill="#c24a3c"/>
<rect x="126.7" y="615.7" width="5.2" height="5.2" fill="#c24a3c"/>
<rect x="155.7" y="613.6" width="5.2" height="5.2" fill="#c24a3c"/>
<rect x="184.6" y="611.4" width="5.2" height="5.2" fill="#c24a3c"/>
<rect x="242.4" y="616.9" width="5.2" height="5.2" fill="#c24a3c"/>
<path d="M61.9 674.3L100.4 685.0L110.1 685.0L129.3 636.7L187.2 660.6" fill="none" stroke="#557cb8" stroke-width="1.3" stroke-linejoin="round"/>
<circle cx="61.9" cy="674.3" r="2.7" fill="#557cb8"/>
<circle cx="100.4" cy="685.0" r="2.7" fill="#557cb8"/>
<circle cx="110.1" cy="685.0" r="2.7" fill="#557cb8"/>
<circle cx="129.3" cy="636.7" r="2.7" fill="#557cb8"/>
<circle cx="187.2" cy="660.6" r="2.7" fill="#557cb8"/>
<polygon points="55.8,628.8 61.0,621.6 61.0,624.6 55.8,631.8" fill="#fff"/><path d="M55.8 628.8L61.0 621.6M55.8 631.8L61.0 624.6" stroke="#8a8a8a" stroke-width="1"/>
<polygon points="91.5,630.0 96.7,622.8 96.7,625.8 91.5,633.0" fill="#fff"/><path d="M91.5 630.0L96.7 622.8M91.5 633.0L96.7 625.8" stroke="#8a8a8a" stroke-width="1"/>
<polygon points="103.1,628.1 108.3,620.9 108.3,623.9 103.1,631.1" fill="#fff"/><path d="M103.1 628.1L108.3 620.9M103.1 631.1L108.3 623.9" stroke="#8a8a8a" stroke-width="1"/>
<path d="M260.2 0V725M0 179.2H520M0 360.2H520M0 543.3H520" stroke="#a2a2a2" stroke-width="1.8"/>
<path d="M0 0.5H520" stroke="#eeeeee" stroke-width="1"/><path d="M0 724.5H520" stroke="#d6d6d6" stroke-width="1"/><path d="M519.5 0V725" stroke="#ececec" stroke-width="1"/>
<path d="M332.0 611.6H345.0" stroke="#557cb8" stroke-width="1.3"/>
<circle cx="338.7" cy="611.6" r="2.7" fill="#557cb8"/>
<text x="348.0" y="614.8" font-family='"Liberation Sans", sans-serif' font-size="8.8" fill="#5c5c5c" textLength="32" lengthAdjust="spacingAndGlyphs">Patient 1</text>
<path d="M332.0 625.6H345.0" stroke="#c24a3c" stroke-width="1.3"/>
<rect x="336.1" y="623.0" width="5.2" height="5.2" fill="#c24a3c"/>
<text x="348.0" y="628.8" font-family='"Liberation Sans", sans-serif' font-size="8.8" fill="#5c5c5c" textLength="32" lengthAdjust="spacingAndGlyphs">Patient 2</text>
<path d="M332.0 639.6H345.0" stroke="#a2c682" stroke-width="1.3"/>
<path d="M338.7 636.4L341.8 641.8L335.6 641.8Z" fill="#a2c682"/>
<text x="348.0" y="642.8" font-family='"Liberation Sans", sans-serif' font-size="8.8" fill="#5c5c5c" textLength="32" lengthAdjust="spacingAndGlyphs">Patient 3</text>
<path d="M332.0 653.6H345.0" stroke="#4e4690" stroke-width="1.3"/>
<path d="M338.7 656.8L341.8 651.4L335.6 651.4Z" fill="#4e4690"/>
<text x="348.0" y="656.8" font-family='"Liberation Sans", sans-serif' font-size="8.8" fill="#5c5c5c" textLength="32" lengthAdjust="spacingAndGlyphs">Patient 4</text>
<path d="M392.5 611.6H405.5" stroke="#e8963e" stroke-width="1.3"/>
<path d="M399.2 608.3L402.2 611.6L399.2 614.9L396.2 611.6Z" fill="#e8963e"/>
<text x="408.5" y="614.8" font-family='"Liberation Sans", sans-serif' font-size="8.8" fill="#5c5c5c" textLength="32" lengthAdjust="spacingAndGlyphs">Patient 5</text>
<path d="M392.5 625.6H405.5" stroke="#6c6c6c" stroke-width="1.3"/>
<circle cx="399.2" cy="625.6" r="2.4" fill="#fff" stroke="#6c6c6c" stroke-width="1.2"/>
<text x="408.5" y="628.8" font-family='"Liberation Sans", sans-serif' font-size="8.8" fill="#5c5c5c" textLength="32" lengthAdjust="spacingAndGlyphs">Patient 6</text>
<path d="M392.5 639.6H405.5" stroke="#acd2e8" stroke-width="1.3"/>
<rect x="396.8" y="637.2" width="4.8" height="4.8" fill="#fff" stroke="#acd2e8" stroke-width="1.2"/>
<text x="408.5" y="642.8" font-family='"Liberation Sans", sans-serif' font-size="8.8" fill="#5c5c5c" textLength="32" lengthAdjust="spacingAndGlyphs">Patient 7</text>
<path d="M392.5 653.6H405.5" stroke="#f0c644" stroke-width="1.3"/>
<path d="M399.2 650.4L402.3 655.8L396.1 655.8Z" fill="#f0c644"/>
<text x="408.5" y="656.8" font-family='"Liberation Sans", sans-serif' font-size="8.8" fill="#5c5c5c" textLength="32" lengthAdjust="spacingAndGlyphs">Patient 8</text>
</svg>
</body></html>
